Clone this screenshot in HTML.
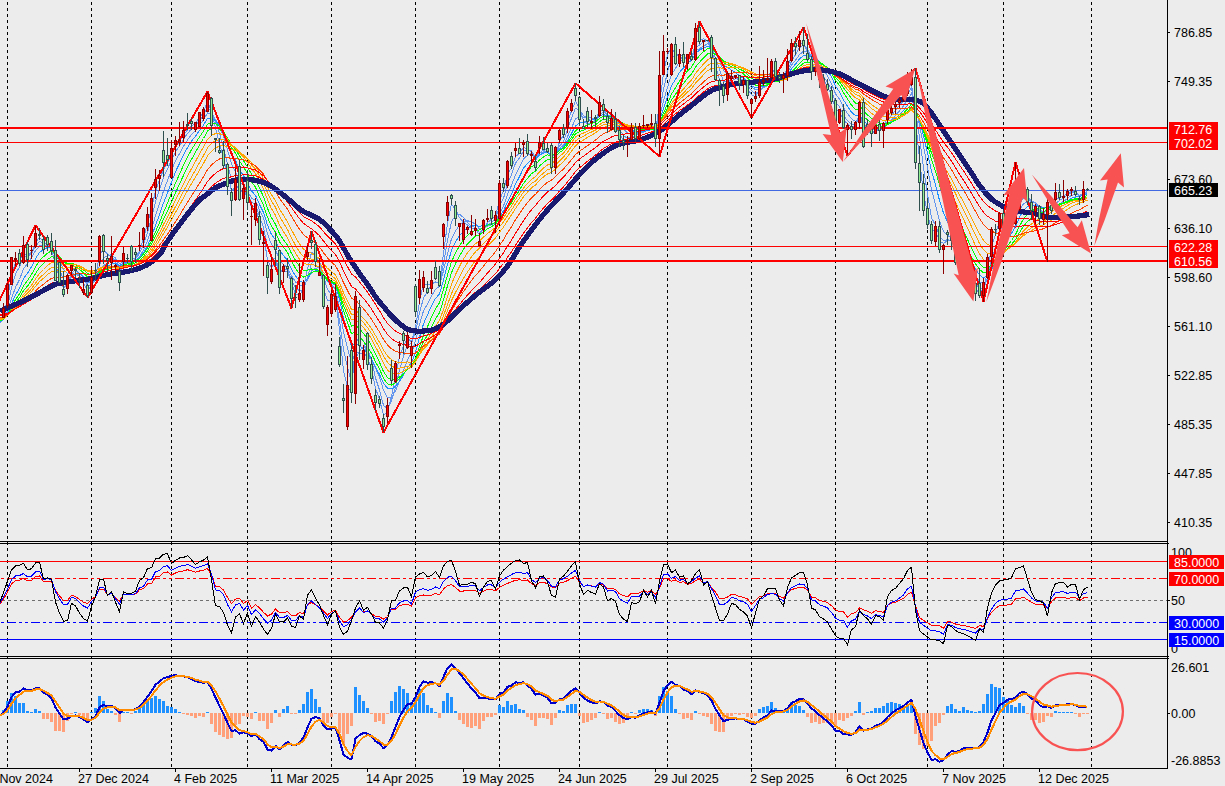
<!DOCTYPE html>
<html><head><meta charset="utf-8"><title>Chart</title>
<style>html,body{margin:0;padding:0;background:#ececec;overflow:hidden}svg{display:block}</style>
</head><body>
<svg width="1225" height="786" viewBox="0 0 1225 786" font-family="'Liberation Sans', sans-serif" font-size="12.5px">
<rect width="1225" height="786" fill="#ececec"/>
<g shape-rendering="crispEdges">
<line x1="7.5" y1="2" x2="7.5" y2="768" stroke="#000" stroke-width="1" stroke-dasharray="3 3"/>
<line x1="91.5" y1="2" x2="91.5" y2="768" stroke="#000" stroke-width="1" stroke-dasharray="3 3"/>
<line x1="171.5" y1="2" x2="171.5" y2="768" stroke="#000" stroke-width="1" stroke-dasharray="3 3"/>
<line x1="247.5" y1="2" x2="247.5" y2="768" stroke="#000" stroke-width="1" stroke-dasharray="3 3"/>
<line x1="331.5" y1="2" x2="331.5" y2="768" stroke="#000" stroke-width="1" stroke-dasharray="3 3"/>
<line x1="415.5" y1="2" x2="415.5" y2="768" stroke="#000" stroke-width="1" stroke-dasharray="3 3"/>
<line x1="499.5" y1="2" x2="499.5" y2="768" stroke="#000" stroke-width="1" stroke-dasharray="3 3"/>
<line x1="579.5" y1="2" x2="579.5" y2="768" stroke="#000" stroke-width="1" stroke-dasharray="3 3"/>
<line x1="667.5" y1="2" x2="667.5" y2="768" stroke="#000" stroke-width="1" stroke-dasharray="3 3"/>
<line x1="751.5" y1="2" x2="751.5" y2="768" stroke="#000" stroke-width="1" stroke-dasharray="3 3"/>
<line x1="835.5" y1="2" x2="835.5" y2="768" stroke="#000" stroke-width="1" stroke-dasharray="3 3"/>
<line x1="927.5" y1="2" x2="927.5" y2="768" stroke="#000" stroke-width="1" stroke-dasharray="3 3"/>
<line x1="1003.5" y1="2" x2="1003.5" y2="768" stroke="#000" stroke-width="1" stroke-dasharray="3 3"/>
<line x1="1091.5" y1="2" x2="1091.5" y2="768" stroke="#000" stroke-width="1" stroke-dasharray="3 3"/>
</g>
<g fill="none" stroke-width="1" shape-rendering="crispEdges">
<polyline points="-0.5,323.6 3.5,316.1 7.5,299.0 11.5,274.7 15.5,262.1 19.5,261.1 23.5,253.5 27.5,255.5 31.5,252.2 35.5,243.0 39.5,237.1 43.5,242.2 47.5,244.8 51.5,248.7 55.5,264.9 59.5,276.9 63.5,288.6 67.5,283.0 71.5,273.5 75.5,269.8 79.5,275.1 83.5,283.1 87.5,291.0 91.5,285.3 95.5,277.2 99.5,254.5 103.5,249.8 107.5,253.8 111.5,256.8 115.5,261.4 119.5,272.4 123.5,265.0 127.5,261.0 131.5,259.5 135.5,257.8 139.5,250.9 143.5,238.0 147.5,223.8 151.5,208.1 155.5,191.2 159.5,180.2 163.5,169.6 167.5,163.4 171.5,154.5 175.5,146.2 179.5,141.8 183.5,135.1 187.5,129.8 191.5,125.8 195.5,123.4 199.5,117.3 203.5,112.2 207.5,101.5 211.5,112.0 215.5,127.6 219.5,144.3 223.5,157.4 227.5,174.2 231.5,190.4 235.5,187.8 239.5,193.3 243.5,190.4 247.5,197.4 251.5,206.7 255.5,207.2 259.5,223.4 263.5,234.7 267.5,259.8 271.5,267.9 275.5,261.4 279.5,272.6 283.5,270.9 287.5,271.4 291.5,283.6 295.5,293.8 299.5,296.0 303.5,288.4 307.5,268.8 311.5,252.5 315.5,254.0 319.5,263.8 323.5,287.7 327.5,300.9 331.5,300.3 335.5,297.1 339.5,330.0 343.5,371.4 347.5,387.1 351.5,391.6 355.5,343.1 359.5,337.3 363.5,340.1 367.5,356.9 371.5,369.3 375.5,388.3 379.5,399.5 383.5,415.2 387.5,412.1 391.5,396.6 395.5,376.0 399.5,356.5 403.5,345.9 407.5,338.5 411.5,341.7 415.5,327.5 419.5,301.6 423.5,283.7 427.5,285.2 431.5,283.7 435.5,281.8 439.5,282.8 443.5,253.9 447.5,223.1 451.5,204.0 455.5,209.4 459.5,217.7 463.5,222.3 467.5,225.0 471.5,228.1 475.5,228.7 479.5,235.1 483.5,228.3 487.5,222.7 491.5,219.0 495.5,216.8 499.5,199.8 503.5,191.1 507.5,173.9 511.5,168.1 515.5,156.2 519.5,153.8 523.5,146.9 527.5,149.7 531.5,151.7 535.5,161.0 539.5,152.8 543.5,150.2 547.5,149.5 551.5,159.8 555.5,155.0 559.5,141.9 563.5,135.0 567.5,122.2 571.5,111.1 575.5,100.8 579.5,109.3 583.5,120.5 587.5,124.0 591.5,122.8 595.5,120.2 599.5,111.0 603.5,109.2 607.5,115.4 611.5,118.4 615.5,125.8 619.5,133.9 623.5,140.2 627.5,141.2 631.5,134.2 635.5,135.3 639.5,130.5 643.5,127.5 647.5,124.7 651.5,123.9 655.5,131.3 659.5,104.2 663.5,73.3 667.5,54.6 671.5,47.3 675.5,55.0 679.5,55.6 683.5,60.1 687.5,57.0 691.5,58.4 695.5,43.0 699.5,40.5 703.5,38.7 707.5,40.6 711.5,49.1 715.5,65.9 719.5,79.3 723.5,90.0 727.5,82.9 731.5,78.5 735.5,75.3 739.5,80.1 743.5,80.9 747.5,88.9 751.5,94.7 755.5,96.9 759.5,89.4 763.5,83.5 767.5,79.5 771.5,70.1 775.5,72.0 779.5,75.2 783.5,76.4 787.5,68.7 791.5,54.4 795.5,48.2 799.5,42.8 803.5,43.9 807.5,51.7 811.5,63.5 815.5,68.0 819.5,74.7 823.5,80.2 827.5,86.6 831.5,95.2 835.5,109.5 839.5,112.0 843.5,120.4 847.5,123.4 851.5,127.8 855.5,125.0 859.5,113.3 863.5,127.9 867.5,130.8 871.5,134.7 875.5,128.7 879.5,129.3 883.5,125.8 887.5,117.9 891.5,111.1 895.5,106.0 899.5,102.6 903.5,97.9 907.5,90.7 911.5,82.6 915.5,121.1 919.5,158.7 923.5,193.5 927.5,213.1 931.5,230.7 935.5,231.1 939.5,240.9 943.5,243.5 947.5,240.6 951.5,239.6 955.5,250.9 959.5,261.8 963.5,264.1 967.5,271.0 971.5,279.3 975.5,288.7 979.5,293.7 983.5,288.6 987.5,271.8 991.5,247.0 995.5,234.3 999.5,221.5 1003.5,222.2 1007.5,217.2 1011.5,216.6 1015.5,212.2 1019.5,198.8 1023.5,191.7 1027.5,195.2 1031.5,204.3 1035.5,206.7 1039.5,213.0 1043.5,214.3 1047.5,209.0 1051.5,208.5 1055.5,199.9 1059.5,197.9 1063.5,195.9 1067.5,193.8 1071.5,190.8 1075.5,192.3 1079.5,196.7 1083.5,193.7 1087.5,191.5" stroke="#6495ed"/>
<polyline points="-0.5,323.1 3.5,318.4 7.5,306.5 11.5,288.0 15.5,274.1 19.5,266.9 23.5,256.9 27.5,256.2 31.5,253.9 35.5,246.4 39.5,241.5 43.5,243.3 47.5,243.0 51.5,245.8 55.5,258.5 59.5,268.7 63.5,279.7 67.5,281.1 71.5,277.2 75.5,274.3 79.5,275.3 83.5,279.1 87.5,285.7 91.5,284.5 95.5,280.6 99.5,265.0 103.5,257.8 107.5,256.0 111.5,254.7 115.5,258.1 119.5,267.7 123.5,264.3 127.5,262.8 131.5,262.4 135.5,259.1 139.5,253.3 143.5,244.4 147.5,232.5 151.5,218.1 155.5,202.0 159.5,189.4 163.5,177.4 167.5,168.8 171.5,159.9 175.5,151.7 179.5,146.1 183.5,139.2 187.5,133.4 191.5,129.1 195.5,125.7 199.5,120.2 203.5,115.6 207.5,107.0 211.5,111.5 215.5,120.9 219.5,133.3 223.5,147.2 227.5,164.2 231.5,179.8 235.5,183.1 239.5,190.7 243.5,191.0 247.5,195.0 251.5,202.1 255.5,204.1 259.5,216.7 263.5,227.4 267.5,246.7 271.5,257.9 275.5,259.2 279.5,270.1 283.5,270.1 287.5,269.8 291.5,279.9 295.5,287.8 299.5,290.8 303.5,289.7 307.5,277.5 311.5,263.6 315.5,259.7 319.5,261.5 323.5,276.4 327.5,289.6 331.5,294.9 335.5,297.4 339.5,320.6 343.5,349.7 347.5,367.4 351.5,382.2 355.5,358.2 359.5,351.0 363.5,346.5 367.5,349.9 371.5,359.5 375.5,378.0 379.5,389.9 383.5,405.4 387.5,408.6 391.5,401.1 395.5,387.4 399.5,370.1 403.5,355.9 407.5,345.2 411.5,343.1 415.5,332.0 419.5,313.1 423.5,297.8 427.5,292.0 431.5,284.8 435.5,281.9 439.5,283.3 443.5,263.7 447.5,240.1 451.5,221.7 455.5,215.3 459.5,214.3 463.5,217.6 467.5,222.2 471.5,226.3 475.5,227.5 479.5,232.5 483.5,229.1 487.5,225.5 491.5,222.6 495.5,219.1 499.5,206.0 503.5,198.4 507.5,183.8 511.5,174.7 515.5,163.1 519.5,157.9 523.5,150.8 527.5,150.6 531.5,150.9 535.5,157.0 539.5,152.9 543.5,152.1 547.5,151.6 551.5,156.8 555.5,153.7 559.5,146.3 563.5,141.4 567.5,129.8 571.5,118.0 575.5,108.2 579.5,110.1 583.5,115.4 587.5,118.7 591.5,121.2 595.5,121.6 599.5,114.9 603.5,112.2 607.5,114.9 611.5,115.8 615.5,121.6 619.5,129.4 623.5,135.4 627.5,138.4 631.5,136.0 635.5,136.8 639.5,132.8 643.5,129.3 647.5,126.9 651.5,125.3 655.5,129.1 659.5,111.5 663.5,89.3 667.5,72.0 671.5,57.5 675.5,54.8 679.5,53.9 683.5,57.4 687.5,57.0 691.5,58.4 695.5,48.1 699.5,45.0 703.5,41.7 707.5,40.3 711.5,45.6 715.5,58.2 719.5,69.6 723.5,81.3 727.5,81.7 731.5,80.9 735.5,78.6 739.5,79.7 743.5,79.5 747.5,85.5 751.5,90.8 755.5,93.8 759.5,90.8 763.5,87.4 767.5,83.2 771.5,74.7 775.5,73.8 779.5,74.8 783.5,74.6 787.5,70.5 791.5,61.3 795.5,54.7 799.5,47.6 803.5,45.1 807.5,49.2 811.5,57.5 815.5,62.5 819.5,70.2 823.5,76.7 827.5,82.5 831.5,90.2 835.5,102.2 839.5,106.8 843.5,115.5 847.5,120.6 851.5,124.7 855.5,124.5 859.5,117.7 863.5,126.2 867.5,127.7 871.5,130.3 875.5,129.6 879.5,130.7 883.5,127.2 887.5,121.2 891.5,115.6 895.5,110.4 899.5,105.4 903.5,100.6 907.5,94.6 911.5,87.5 915.5,111.0 919.5,137.5 923.5,167.5 927.5,194.5 931.5,217.8 935.5,225.1 939.5,236.1 943.5,240.7 947.5,239.8 951.5,240.4 955.5,248.2 959.5,255.3 963.5,259.2 967.5,267.3 971.5,275.1 975.5,282.7 979.5,288.8 983.5,288.3 987.5,278.3 991.5,260.2 995.5,246.6 999.5,231.3 1003.5,225.7 1007.5,219.7 1011.5,217.7 1015.5,214.3 1019.5,204.5 1023.5,197.7 1027.5,197.4 1031.5,200.8 1035.5,202.8 1039.5,209.5 1043.5,212.4 1047.5,209.7 1051.5,209.9 1055.5,203.7 1059.5,200.4 1063.5,198.0 1067.5,195.1 1071.5,192.2 1075.5,192.9 1079.5,195.1 1083.5,193.3 1087.5,192.5" stroke="#6495ed"/>
<polyline points="-0.5,322.5 3.5,319.5 7.5,311.5 11.5,298.5 15.5,287.4 19.5,279.5 23.5,268.8 27.5,263.6 31.5,257.9 35.5,250.6 39.5,246.0 43.5,245.9 47.5,244.9 51.5,245.6 55.5,253.4 59.5,260.6 63.5,269.8 67.5,273.3 71.5,273.6 75.5,274.2 79.5,276.5 83.5,279.5 87.5,283.0 91.5,281.9 95.5,279.7 99.5,270.3 103.5,265.6 107.5,263.3 111.5,260.0 115.5,259.6 119.5,263.7 123.5,261.6 127.5,261.4 131.5,262.3 135.5,260.8 139.5,257.0 143.5,250.0 147.5,240.6 151.5,229.0 155.5,215.8 159.5,203.6 163.5,191.0 167.5,180.5 171.5,170.1 175.5,160.6 179.5,153.6 183.5,146.2 187.5,139.9 191.5,134.6 195.5,130.3 199.5,124.9 203.5,120.1 207.5,112.9 211.5,114.2 215.5,119.3 219.5,126.8 223.5,136.5 227.5,149.7 231.5,164.2 235.5,171.4 239.5,181.3 243.5,185.4 247.5,191.2 251.5,198.1 255.5,200.4 259.5,209.9 263.5,218.4 267.5,233.9 271.5,244.6 275.5,249.2 279.5,260.5 283.5,264.4 287.5,267.7 291.5,275.7 295.5,281.9 299.5,285.5 303.5,286.0 307.5,279.6 311.5,271.1 315.5,268.2 319.5,267.5 323.5,274.5 327.5,281.3 331.5,285.1 335.5,289.2 339.5,308.2 343.5,332.2 347.5,348.3 351.5,362.6 355.5,352.1 359.5,353.0 363.5,353.8 367.5,356.2 371.5,359.7 375.5,368.2 379.5,377.1 383.5,390.3 387.5,397.8 391.5,397.0 395.5,391.2 399.5,380.8 403.5,370.4 407.5,359.6 411.5,353.2 415.5,340.9 419.5,324.4 423.5,310.9 427.5,303.8 431.5,295.8 435.5,289.4 439.5,286.2 443.5,270.6 447.5,253.5 451.5,238.8 455.5,230.8 459.5,225.3 463.5,221.8 467.5,220.7 471.5,221.9 475.5,224.0 479.5,229.0 483.5,228.1 487.5,226.3 491.5,224.7 495.5,222.2 499.5,213.0 503.5,206.1 507.5,194.3 511.5,185.4 515.5,174.7 519.5,167.2 523.5,158.9 527.5,155.3 531.5,153.5 535.5,155.7 539.5,152.7 543.5,151.8 547.5,151.9 551.5,155.6 555.5,154.1 559.5,148.7 563.5,144.9 567.5,136.6 571.5,128.0 575.5,118.8 579.5,116.6 583.5,117.2 587.5,117.3 591.5,118.0 595.5,118.4 599.5,115.5 603.5,114.8 607.5,116.5 611.5,116.4 615.5,119.5 619.5,124.4 623.5,129.3 627.5,133.0 631.5,133.3 635.5,135.4 639.5,133.9 643.5,132.0 647.5,129.8 651.5,127.7 655.5,129.5 659.5,117.0 663.5,101.1 667.5,87.3 671.5,74.5 675.5,68.4 679.5,61.8 683.5,59.1 687.5,56.1 691.5,56.7 695.5,50.8 699.5,48.6 703.5,46.1 707.5,43.8 711.5,46.1 715.5,53.1 719.5,61.1 723.5,70.4 727.5,73.5 731.5,76.2 735.5,77.7 739.5,80.2 743.5,80.6 747.5,83.8 751.5,87.2 755.5,89.6 759.5,88.9 763.5,87.7 767.5,85.7 771.5,80.0 775.5,78.5 779.5,77.4 783.5,75.8 787.5,72.0 791.5,65.1 795.5,60.2 799.5,54.6 803.5,51.3 807.5,51.6 811.5,55.1 815.5,57.9 819.5,63.5 823.5,69.6 827.5,75.9 831.5,83.6 835.5,93.7 839.5,99.2 843.5,107.4 847.5,113.4 851.5,118.9 855.5,121.3 859.5,118.2 863.5,124.8 867.5,126.3 871.5,128.5 875.5,128.0 879.5,128.8 883.5,127.8 887.5,124.2 891.5,120.3 895.5,115.3 899.5,110.9 903.5,105.9 907.5,99.9 911.5,93.3 915.5,107.2 919.5,124.6 923.5,146.0 927.5,167.7 931.5,189.7 935.5,204.5 939.5,220.9 943.5,231.5 947.5,235.2 951.5,238.4 955.5,244.7 959.5,250.8 963.5,254.3 967.5,260.8 971.5,267.6 975.5,275.3 979.5,282.0 983.5,283.8 987.5,279.0 991.5,268.1 995.5,258.7 999.5,246.2 1003.5,238.4 1007.5,229.4 1011.5,223.4 1015.5,218.1 1019.5,209.6 1023.5,203.9 1027.5,202.0 1031.5,202.9 1035.5,202.7 1039.5,206.0 1043.5,208.1 1047.5,207.5 1051.5,209.1 1055.5,205.8 1059.5,203.8 1063.5,201.4 1067.5,198.4 1071.5,195.3 1075.5,194.4 1079.5,195.2 1083.5,193.5 1087.5,192.8" stroke="#6495ed"/>
<polyline points="-0.5,321.8 3.5,319.8 7.5,313.8 11.5,303.9 15.5,295.0 19.5,288.2 23.5,278.8 27.5,273.2 31.5,266.8 35.5,258.7 39.5,252.4 43.5,249.8 47.5,247.5 51.5,247.2 55.5,252.4 59.5,257.5 63.5,264.3 67.5,267.3 71.5,268.3 75.5,270.0 79.5,273.2 83.5,276.8 87.5,280.9 91.5,281.2 95.5,279.9 99.5,272.5 103.5,268.5 107.5,266.4 111.5,263.9 115.5,263.4 119.5,265.8 123.5,263.0 127.5,261.7 131.5,261.2 135.5,260.1 139.5,257.7 143.5,252.9 147.5,245.8 151.5,236.7 155.5,225.4 159.5,214.6 163.5,203.0 167.5,192.9 171.5,182.2 175.5,171.8 179.5,163.4 183.5,154.8 187.5,147.5 191.5,141.3 195.5,136.1 199.5,130.4 203.5,125.2 207.5,118.4 211.5,118.0 215.5,120.6 219.5,125.5 223.5,132.3 227.5,142.2 231.5,153.6 235.5,160.3 239.5,169.6 243.5,175.6 247.5,183.0 251.5,191.1 255.5,195.3 259.5,204.4 263.5,212.4 267.5,225.1 271.5,234.6 275.5,239.7 279.5,250.3 283.5,255.6 287.5,260.5 291.5,269.0 295.5,276.0 299.5,280.9 303.5,282.5 307.5,278.5 311.5,272.8 315.5,270.9 319.5,270.7 323.5,276.0 327.5,281.0 331.5,283.2 335.5,285.4 339.5,299.2 343.5,317.9 347.5,332.4 351.5,346.6 355.5,342.6 359.5,346.1 363.5,349.1 367.5,353.2 371.5,358.7 375.5,367.2 379.5,374.3 383.5,383.5 387.5,388.1 391.5,388.7 395.5,386.4 399.5,381.3 403.5,375.1 407.5,367.8 411.5,362.7 415.5,352.2 419.5,337.3 423.5,323.8 427.5,314.8 431.5,305.7 435.5,298.5 439.5,293.9 443.5,280.1 447.5,264.4 451.5,250.4 455.5,241.8 459.5,235.7 463.5,231.1 467.5,227.9 471.5,226.1 475.5,224.9 479.5,226.6 483.5,225.3 487.5,224.8 491.5,224.5 495.5,223.2 499.5,216.4 503.5,211.0 507.5,201.6 511.5,193.9 515.5,184.2 519.5,176.6 523.5,168.3 527.5,163.3 531.5,159.4 535.5,159.0 539.5,154.9 543.5,153.1 547.5,152.3 551.5,154.8 555.5,153.6 559.5,149.7 563.5,147.0 567.5,140.7 571.5,133.5 575.5,125.8 579.5,123.1 583.5,122.6 587.5,121.1 591.5,119.9 595.5,118.7 599.5,115.6 603.5,114.5 607.5,115.8 611.5,116.4 615.5,119.2 619.5,123.1 623.5,126.6 627.5,129.4 631.5,129.8 635.5,132.1 639.5,132.0 643.5,131.5 647.5,130.7 651.5,129.4 655.5,130.8 659.5,121.1 663.5,108.3 667.5,96.9 671.5,85.7 675.5,79.4 679.5,72.3 683.5,68.0 687.5,63.2 691.5,60.4 695.5,53.3 699.5,50.1 703.5,47.8 707.5,46.3 711.5,47.7 715.5,52.7 719.5,58.2 723.5,65.1 727.5,67.4 731.5,70.2 735.5,72.5 739.5,76.0 743.5,78.0 747.5,82.1 751.5,85.7 755.5,88.0 759.5,87.4 763.5,86.5 767.5,85.2 771.5,81.5 775.5,80.6 779.5,79.9 783.5,78.5 787.5,75.1 791.5,68.8 795.5,64.1 799.5,59.0 803.5,55.6 807.5,55.1 811.5,57.0 815.5,58.4 819.5,61.6 823.5,65.5 827.5,70.3 831.5,76.8 835.5,85.9 839.5,91.9 843.5,99.9 847.5,106.2 851.5,112.1 855.5,115.6 859.5,115.0 863.5,121.5 867.5,123.9 871.5,126.5 875.5,126.8 879.5,127.8 883.5,127.4 887.5,124.6 891.5,121.7 895.5,118.3 899.5,114.8 903.5,110.7 907.5,105.1 911.5,99.1 915.5,108.1 919.5,120.2 923.5,135.9 927.5,152.8 931.5,170.9 935.5,184.6 939.5,200.4 943.5,213.1 947.5,221.8 951.5,229.6 955.5,238.6 959.5,245.7 963.5,250.1 967.5,256.1 971.5,262.3 975.5,268.9 979.5,275.1 983.5,277.9 987.5,276.0 991.5,269.3 995.5,262.9 999.5,253.8 1003.5,247.5 1007.5,239.8 1011.5,233.3 1015.5,226.7 1019.5,217.3 1023.5,210.2 1027.5,206.7 1031.5,205.9 1035.5,204.9 1039.5,206.5 1043.5,207.6 1047.5,206.5 1051.5,207.3 1055.5,205.0 1059.5,204.0 1063.5,202.8 1067.5,200.8 1071.5,198.3 1075.5,197.0 1079.5,196.9 1083.5,195.0 1087.5,193.7" stroke="#1e90ff"/>
<polyline points="-0.5,321.1 3.5,319.6 7.5,315.0 11.5,307.0 15.5,299.7 19.5,293.9 23.5,285.9 27.5,280.6 31.5,274.5 35.5,266.9 39.5,260.5 43.5,256.8 47.5,253.1 51.5,250.9 55.5,253.5 59.5,256.7 63.5,261.8 67.5,264.1 71.5,265.0 75.5,266.6 79.5,269.4 83.5,272.9 87.5,277.1 91.5,278.3 95.5,278.3 99.5,273.3 103.5,270.5 107.5,268.9 111.5,266.5 115.5,265.6 119.5,267.2 123.5,265.0 127.5,263.8 131.5,263.0 135.5,261.3 139.5,258.6 143.5,254.0 147.5,248.2 151.5,240.9 155.5,231.8 159.5,222.7 163.5,212.6 167.5,203.2 171.5,193.0 175.5,183.0 179.5,174.3 183.5,165.2 187.5,157.0 191.5,149.7 195.5,143.4 199.5,136.9 203.5,131.1 207.5,124.2 211.5,122.7 215.5,123.6 219.5,126.5 223.5,131.3 227.5,138.8 231.5,147.8 235.5,153.3 239.5,161.2 243.5,166.8 247.5,173.9 251.5,181.9 255.5,187.3 259.5,196.8 263.5,205.3 267.5,217.2 271.5,226.5 275.5,232.1 279.5,241.7 283.5,247.2 287.5,252.5 291.5,261.0 295.5,268.3 299.5,274.0 303.5,277.1 307.5,275.5 311.5,272.4 315.5,271.4 319.5,271.5 323.5,276.0 327.5,280.2 331.5,282.4 335.5,284.4 339.5,295.5 343.5,310.5 347.5,322.1 351.5,333.9 355.5,332.0 359.5,336.7 363.5,341.3 367.5,346.9 371.5,353.2 375.5,361.7 379.5,369.0 383.5,378.5 387.5,383.9 391.5,385.0 395.5,382.9 399.5,378.3 403.5,373.9 407.5,369.1 411.5,366.3 415.5,358.6 419.5,346.7 423.5,335.2 427.5,326.7 431.5,317.2 435.5,308.9 439.5,302.6 443.5,289.4 447.5,274.9 451.5,261.8 455.5,252.9 459.5,245.8 463.5,239.8 467.5,235.3 471.5,232.5 475.5,230.1 479.5,230.0 483.5,227.4 487.5,225.3 491.5,223.8 495.5,222.3 499.5,217.4 503.5,213.5 507.5,206.0 511.5,199.6 515.5,191.3 519.5,184.5 523.5,176.8 527.5,171.4 531.5,166.7 535.5,164.8 539.5,160.0 543.5,157.0 547.5,154.9 551.5,155.7 555.5,154.1 559.5,150.5 563.5,148.1 567.5,142.8 571.5,137.0 575.5,130.6 579.5,128.1 583.5,126.9 587.5,125.1 591.5,123.4 595.5,121.8 599.5,118.3 603.5,116.3 607.5,116.4 611.5,116.3 615.5,118.2 619.5,121.3 623.5,124.7 627.5,127.4 631.5,128.0 635.5,129.9 639.5,129.9 643.5,129.7 647.5,129.4 651.5,129.0 655.5,130.7 659.5,123.4 663.5,113.2 667.5,103.8 671.5,94.1 675.5,87.8 679.5,81.0 683.5,76.3 687.5,71.0 691.5,67.3 695.5,60.1 699.5,55.7 703.5,51.7 707.5,48.7 711.5,48.8 715.5,52.5 719.5,57.1 723.5,62.6 727.5,64.6 731.5,66.8 735.5,68.7 739.5,71.7 743.5,73.9 747.5,78.0 751.5,82.0 755.5,85.0 759.5,85.7 763.5,85.7 767.5,85.0 771.5,82.0 775.5,81.1 779.5,80.6 783.5,79.7 787.5,77.1 791.5,72.1 795.5,68.0 799.5,63.3 803.5,59.7 807.5,58.5 811.5,59.3 815.5,59.7 819.5,62.0 823.5,64.8 827.5,68.3 831.5,73.1 835.5,80.3 839.5,85.4 843.5,92.7 847.5,99.0 851.5,105.1 855.5,109.4 859.5,110.3 863.5,116.6 867.5,119.8 871.5,123.0 875.5,124.4 879.5,126.1 883.5,126.3 887.5,124.6 891.5,122.4 895.5,119.8 899.5,116.8 903.5,113.3 907.5,108.9 911.5,103.8 915.5,110.5 919.5,119.4 923.5,131.6 927.5,144.9 931.5,159.6 935.5,171.2 939.5,185.1 943.5,196.9 947.5,206.2 951.5,215.1 955.5,225.6 959.5,235.3 963.5,242.5 967.5,250.1 971.5,256.9 975.5,263.6 979.5,269.5 983.5,272.7 987.5,272.0 991.5,267.5 995.5,263.1 999.5,256.6 1003.5,252.1 1007.5,245.9 1011.5,240.5 1015.5,234.6 1019.5,226.2 1023.5,218.9 1027.5,214.2 1031.5,211.4 1035.5,208.7 1039.5,208.6 1043.5,208.6 1047.5,207.3 1051.5,207.4 1055.5,205.2 1059.5,204.0 1063.5,202.8 1067.5,201.2 1071.5,199.4 1075.5,198.7 1079.5,198.6 1083.5,196.9 1087.5,195.5" stroke="#00ff00"/>
<polyline points="-0.5,320.5 3.5,319.3 7.5,315.6 11.5,308.9 15.5,302.8 19.5,297.7 23.5,290.8 27.5,286.1 31.5,280.5 35.5,273.6 39.5,267.6 43.5,263.6 47.5,259.6 51.5,256.7 55.5,257.7 59.5,259.1 63.5,262.1 67.5,263.1 71.5,263.4 75.5,264.5 79.5,266.9 83.5,269.9 87.5,273.5 91.5,274.9 95.5,275.4 99.5,271.9 103.5,270.2 107.5,269.5 111.5,267.9 115.5,267.5 119.5,268.8 123.5,266.6 127.5,265.2 131.5,264.4 135.5,262.9 139.5,260.5 143.5,256.4 147.5,250.9 151.5,244.1 155.5,235.9 159.5,227.9 163.5,219.3 167.5,211.0 171.5,201.9 175.5,192.7 179.5,184.2 183.5,175.3 187.5,167.0 191.5,159.3 195.5,152.3 199.5,145.1 203.5,138.5 207.5,131.1 211.5,128.3 215.5,127.9 219.5,129.3 223.5,132.4 227.5,137.9 231.5,145.0 235.5,149.4 239.5,155.9 243.5,160.8 247.5,167.0 251.5,174.2 255.5,179.5 259.5,188.3 263.5,196.7 267.5,208.3 271.5,217.8 275.5,224.2 279.5,233.7 283.5,239.7 287.5,245.3 291.5,253.4 295.5,260.5 299.5,266.4 303.5,270.3 307.5,270.3 311.5,269.0 315.5,269.4 319.5,270.5 323.5,275.1 327.5,279.1 331.5,281.1 335.5,283.1 339.5,292.6 343.5,305.5 347.5,315.6 351.5,326.0 355.5,324.8 359.5,329.0 363.5,333.4 367.5,338.9 371.5,345.6 375.5,354.3 379.5,362.3 383.5,371.6 387.5,377.5 391.5,379.8 395.5,379.6 399.5,377.0 403.5,373.7 407.5,369.4 411.5,366.6 415.5,360.4 419.5,351.0 423.5,342.0 427.5,334.9 431.5,326.8 435.5,319.1 439.5,312.6 443.5,299.9 447.5,285.8 451.5,272.8 455.5,263.5 459.5,255.9 463.5,249.2 467.5,244.0 471.5,239.9 475.5,236.2 479.5,234.8 483.5,231.6 487.5,228.9 491.5,226.6 495.5,224.2 499.5,218.9 503.5,214.8 507.5,208.2 511.5,202.9 515.5,196.1 519.5,190.2 523.5,183.4 527.5,178.3 531.5,173.7 535.5,171.1 539.5,166.1 543.5,162.4 547.5,159.5 551.5,159.1 555.5,156.6 559.5,152.6 563.5,149.8 567.5,144.9 571.5,139.5 575.5,133.9 579.5,131.5 583.5,130.3 587.5,128.5 591.5,126.8 595.5,125.0 599.5,121.5 603.5,119.3 607.5,118.9 611.5,118.0 615.5,118.9 619.5,120.9 623.5,123.3 627.5,125.4 631.5,126.1 635.5,128.1 639.5,128.4 643.5,128.5 647.5,128.3 651.5,128.1 655.5,129.5 659.5,123.8 663.5,115.6 667.5,107.9 671.5,99.8 675.5,94.4 679.5,88.2 683.5,83.5 687.5,78.2 691.5,74.1 695.5,67.0 699.5,62.3 703.5,57.8 707.5,54.0 711.5,52.8 715.5,54.4 719.5,57.0 723.5,61.0 727.5,62.6 731.5,64.7 735.5,66.5 739.5,69.1 743.5,71.0 747.5,74.5 751.5,78.1 755.5,81.1 759.5,82.3 763.5,83.2 767.5,83.5 771.5,81.7 775.5,81.4 779.5,81.2 783.5,80.3 787.5,78.0 791.5,73.8 795.5,70.5 799.5,66.5 803.5,63.3 807.5,62.0 811.5,62.1 815.5,61.9 819.5,63.2 823.5,65.1 827.5,67.7 831.5,71.6 835.5,77.4 839.5,81.7 843.5,87.7 847.5,93.1 851.5,98.6 855.5,103.0 859.5,104.7 863.5,111.1 867.5,114.9 871.5,118.5 875.5,120.6 879.5,122.9 883.5,124.0 887.5,123.3 891.5,122.1 895.5,120.3 899.5,118.0 903.5,115.1 907.5,111.4 911.5,106.9 915.5,112.2 919.5,119.6 923.5,129.7 927.5,140.8 931.5,152.9 935.5,162.8 939.5,174.6 943.5,185.1 947.5,193.7 951.5,202.3 955.5,212.6 959.5,222.4 963.5,230.5 967.5,239.4 971.5,248.0 975.5,256.2 979.5,263.3 983.5,267.4 987.5,268.0 991.5,264.9 995.5,261.9 999.5,256.9 1003.5,253.5 1007.5,248.7 1011.5,244.5 1015.5,239.7 1019.5,232.5 1023.5,226.1 1027.5,221.5 1031.5,218.3 1035.5,214.9 1039.5,213.4 1043.5,211.9 1047.5,209.5 1051.5,208.7 1055.5,206.3 1059.5,205.0 1063.5,203.6 1067.5,202.0 1071.5,200.2 1075.5,199.4 1079.5,199.2 1083.5,197.9 1087.5,196.9" stroke="#00ff00"/>
<polyline points="-0.5,319.8 3.5,318.9 7.5,315.8 11.5,310.1 15.5,304.9 19.5,300.5 23.5,294.4 27.5,290.1 31.5,285.2 35.5,278.9 39.5,273.3 43.5,269.5 47.5,265.5 51.5,262.4 55.5,262.5 59.5,263.0 63.5,264.8 67.5,264.9 71.5,264.2 75.5,264.4 79.5,265.7 83.5,268.0 87.5,271.1 91.5,272.3 95.5,272.9 99.5,270.0 103.5,268.9 107.5,268.5 111.5,267.6 115.5,267.6 119.5,269.2 123.5,267.6 127.5,266.7 131.5,265.9 135.5,264.4 139.5,262.0 143.5,258.3 147.5,253.5 151.5,247.5 155.5,240.1 159.5,232.7 163.5,224.6 167.5,216.8 171.5,208.6 175.5,200.2 179.5,192.5 183.5,184.2 187.5,176.2 191.5,168.6 195.5,161.4 199.5,154.0 203.5,147.0 207.5,139.3 211.5,135.4 215.5,133.6 219.5,133.6 223.5,135.2 227.5,139.1 231.5,144.5 235.5,147.8 239.5,153.0 243.5,157.0 247.5,162.3 251.5,168.6 255.5,173.4 259.5,181.3 263.5,189.1 267.5,199.7 271.5,208.8 275.5,215.4 279.5,225.0 283.5,231.6 287.5,237.8 291.5,245.9 295.5,253.2 299.5,259.3 303.5,263.6 307.5,264.4 311.5,264.2 315.5,265.5 319.5,267.4 323.5,272.3 327.5,276.5 331.5,279.1 335.5,281.5 339.5,290.0 343.5,301.4 347.5,310.5 351.5,319.8 355.5,319.3 359.5,323.4 363.5,327.6 367.5,332.8 371.5,338.8 375.5,346.7 379.5,354.3 383.5,363.5 387.5,370.0 391.5,373.4 395.5,374.5 399.5,373.3 403.5,371.4 407.5,368.8 411.5,367.2 415.5,362.1 419.5,353.7 423.5,345.5 427.5,339.4 431.5,332.6 435.5,326.2 439.5,320.5 443.5,309.3 447.5,296.4 451.5,284.2 455.5,274.6 459.5,266.4 463.5,259.0 467.5,252.9 471.5,248.0 475.5,243.6 479.5,241.1 483.5,237.1 487.5,233.5 491.5,230.5 495.5,227.7 499.5,222.4 503.5,218.0 507.5,211.5 511.5,206.0 515.5,199.4 519.5,193.9 523.5,188.0 527.5,183.5 531.5,179.3 535.5,176.7 539.5,171.8 543.5,168.1 547.5,164.9 551.5,163.6 555.5,160.6 559.5,156.3 563.5,153.1 567.5,148.0 571.5,142.6 575.5,137.1 579.5,134.5 583.5,133.0 587.5,131.2 591.5,129.5 595.5,127.7 599.5,124.5 603.5,122.4 607.5,121.5 611.5,120.4 615.5,120.7 619.5,122.0 623.5,123.6 627.5,125.0 631.5,125.1 635.5,126.6 639.5,126.9 643.5,127.0 647.5,127.2 651.5,127.3 655.5,128.7 659.5,123.8 663.5,116.8 667.5,110.2 671.5,103.3 675.5,98.6 679.5,93.3 683.5,89.1 687.5,84.2 691.5,80.2 695.5,73.5 699.5,68.6 703.5,64.0 707.5,59.9 711.5,58.0 715.5,58.4 719.5,59.8 723.5,62.2 727.5,62.7 731.5,63.6 735.5,64.7 739.5,67.0 743.5,68.9 747.5,72.1 751.5,75.3 755.5,78.0 759.5,79.3 763.5,80.2 767.5,80.8 771.5,79.8 775.5,80.2 779.5,80.5 783.5,80.3 787.5,78.7 791.5,75.2 795.5,72.2 799.5,68.6 803.5,65.8 807.5,64.6 811.5,64.6 815.5,64.3 819.5,65.1 823.5,66.4 827.5,68.2 831.5,71.2 835.5,75.9 839.5,79.4 843.5,84.6 847.5,89.3 851.5,94.1 855.5,97.9 859.5,99.7 863.5,105.5 867.5,109.4 871.5,113.4 875.5,116.1 879.5,118.9 883.5,120.6 887.5,120.7 891.5,120.3 895.5,119.4 899.5,117.9 903.5,115.9 907.5,112.9 911.5,109.1 915.5,113.6 919.5,119.9 923.5,128.4 927.5,137.9 931.5,148.5 935.5,157.2 939.5,167.6 943.5,176.8 947.5,184.5 951.5,192.4 955.5,201.8 959.5,211.1 963.5,219.1 967.5,228.0 971.5,236.9 975.5,245.7 979.5,253.7 983.5,259.5 987.5,262.0 991.5,261.1 995.5,259.5 999.5,256.0 1003.5,253.5 1007.5,249.7 1011.5,246.3 1015.5,242.4 1019.5,236.4 1023.5,231.0 1027.5,227.0 1031.5,224.0 1035.5,220.7 1039.5,218.9 1043.5,216.9 1047.5,214.0 1051.5,212.2 1055.5,209.1 1059.5,206.9 1063.5,205.1 1067.5,203.2 1071.5,201.4 1075.5,200.4 1079.5,200.1 1083.5,198.7 1087.5,197.6" stroke="#ffa500"/>
<polyline points="-0.5,319.2 3.5,318.5 7.5,315.8 11.5,310.9 15.5,306.3 19.5,302.4 23.5,297.1 27.5,293.2 31.5,288.7 35.5,283.1 39.5,278.0 43.5,274.3 47.5,270.4 51.5,267.4 55.5,267.1 59.5,267.0 63.5,268.2 67.5,267.7 71.5,266.6 75.5,266.2 79.5,266.7 83.5,268.1 87.5,270.2 91.5,270.8 95.5,271.1 99.5,268.6 103.5,267.6 107.5,267.4 111.5,266.7 115.5,266.9 119.5,268.5 123.5,267.4 127.5,266.9 131.5,266.5 135.5,265.4 139.5,263.5 143.5,260.2 147.5,255.8 151.5,250.3 155.5,243.5 159.5,236.8 163.5,229.5 167.5,222.3 171.5,214.5 175.5,206.6 179.5,199.2 183.5,191.4 187.5,183.9 191.5,176.8 195.5,169.8 199.5,162.6 203.5,155.6 207.5,147.8 211.5,143.3 215.5,140.7 219.5,139.5 223.5,139.8 227.5,142.1 231.5,145.9 235.5,148.0 239.5,152.1 243.5,155.1 247.5,159.5 251.5,164.8 255.5,169.0 259.5,176.0 263.5,183.0 267.5,192.6 271.5,201.0 275.5,207.4 279.5,216.5 283.5,223.1 287.5,229.5 291.5,237.8 295.5,245.4 299.5,251.9 303.5,256.7 307.5,258.5 311.5,259.1 315.5,260.9 319.5,263.3 323.5,268.2 327.5,272.7 331.5,275.7 335.5,278.6 339.5,286.8 343.5,297.4 347.5,306.0 351.5,314.6 355.5,314.6 359.5,318.6 363.5,322.7 367.5,327.6 371.5,333.4 375.5,340.8 379.5,347.8 383.5,356.2 387.5,362.3 391.5,366.1 395.5,368.0 399.5,368.1 403.5,367.6 407.5,366.2 411.5,365.5 415.5,361.7 419.5,355.2 423.5,348.5 427.5,343.2 431.5,336.9 435.5,330.8 439.5,325.7 443.5,315.8 447.5,304.6 451.5,293.6 455.5,284.8 459.5,276.7 463.5,269.2 467.5,262.6 471.5,256.9 475.5,251.7 479.5,248.2 483.5,243.6 487.5,239.5 491.5,235.9 495.5,232.4 499.5,226.7 503.5,222.0 507.5,215.7 511.5,210.2 515.5,203.7 519.5,198.1 523.5,192.1 527.5,187.5 531.5,183.4 535.5,181.0 539.5,176.6 543.5,173.0 547.5,169.8 551.5,168.3 555.5,165.1 559.5,160.8 563.5,157.2 567.5,152.1 571.5,146.6 575.5,141.1 579.5,138.1 583.5,136.1 587.5,133.9 591.5,132.0 595.5,130.1 599.5,127.0 603.5,124.9 607.5,124.0 611.5,122.8 615.5,122.9 619.5,123.7 623.5,124.7 627.5,125.6 631.5,125.5 635.5,126.5 639.5,126.3 643.5,126.2 647.5,126.2 651.5,126.2 655.5,127.5 659.5,123.5 663.5,117.6 667.5,111.8 671.5,105.7 675.5,101.5 679.5,96.8 683.5,93.0 687.5,88.7 691.5,85.1 695.5,79.0 699.5,74.4 703.5,69.9 707.5,65.7 711.5,63.3 715.5,63.0 719.5,63.5 723.5,65.0 727.5,64.7 731.5,64.9 735.5,65.3 739.5,66.5 743.5,67.6 747.5,70.1 751.5,73.0 755.5,75.6 759.5,76.8 763.5,77.8 767.5,78.5 771.5,77.8 775.5,78.3 779.5,78.9 783.5,79.0 787.5,78.1 791.5,75.4 795.5,73.2 799.5,70.2 803.5,67.8 807.5,66.5 811.5,66.4 815.5,66.0 819.5,66.7 823.5,67.7 827.5,69.2 831.5,71.7 835.5,75.6 839.5,78.4 843.5,82.7 847.5,86.7 851.5,90.9 855.5,94.4 859.5,96.0 863.5,101.3 867.5,104.8 871.5,108.5 875.5,111.2 879.5,114.3 883.5,116.4 887.5,117.2 891.5,117.6 895.5,117.3 899.5,116.6 903.5,115.3 907.5,113.1 911.5,110.1 915.5,114.3 919.5,120.0 923.5,127.5 927.5,135.9 931.5,145.3 935.5,152.9 939.5,162.2 943.5,170.6 947.5,177.7 951.5,184.9 955.5,193.5 959.5,202.0 963.5,209.6 967.5,218.0 971.5,226.5 975.5,235.2 979.5,243.4 983.5,249.7 987.5,253.3 991.5,254.1 995.5,254.5 999.5,252.9 1003.5,251.9 1007.5,249.4 1011.5,246.9 1015.5,243.8 1019.5,238.7 1023.5,234.0 1027.5,230.6 1031.5,227.9 1035.5,225.0 1039.5,223.4 1043.5,221.4 1047.5,218.5 1051.5,216.5 1055.5,213.2 1059.5,210.6 1063.5,208.2 1067.5,205.6 1071.5,203.3 1075.5,201.9 1079.5,201.2 1083.5,199.8 1087.5,198.6" stroke="#ffa500"/>
<polyline points="-0.5,318.5 3.5,318.0 7.5,315.6 11.5,311.3 15.5,307.3 19.5,303.8 23.5,299.1 27.5,295.6 31.5,291.5 35.5,286.4 39.5,281.7 43.5,278.3 47.5,274.6 51.5,271.7 55.5,271.1 59.5,270.8 63.5,271.5 67.5,270.7 71.5,269.4 75.5,268.6 79.5,268.8 83.5,269.5 87.5,271.0 91.5,271.1 95.5,270.9 99.5,268.2 103.5,267.0 107.5,266.6 111.5,266.0 115.5,266.1 119.5,267.6 123.5,266.8 127.5,266.4 131.5,266.2 135.5,265.5 139.5,264.0 143.5,261.3 147.5,257.5 151.5,252.7 155.5,246.6 159.5,240.4 163.5,233.6 167.5,226.9 171.5,219.7 175.5,212.3 179.5,205.3 183.5,197.9 187.5,190.6 191.5,183.7 195.5,177.0 199.5,170.1 203.5,163.4 207.5,155.9 211.5,151.2 215.5,148.0 219.5,146.1 223.5,145.5 227.5,146.7 231.5,149.2 235.5,150.3 239.5,153.1 243.5,155.1 247.5,158.5 251.5,162.8 255.5,166.3 259.5,172.4 263.5,178.5 267.5,187.1 271.5,194.8 275.5,200.7 279.5,209.1 283.5,215.4 287.5,221.7 291.5,229.7 295.5,237.2 299.5,243.9 303.5,249.2 307.5,251.8 311.5,253.3 315.5,255.8 319.5,258.7 323.5,263.7 327.5,268.3 331.5,271.6 335.5,274.7 339.5,282.6 343.5,292.7 347.5,301.1 351.5,309.4 355.5,310.1 359.5,314.2 363.5,318.3 367.5,323.0 371.5,328.5 375.5,335.5 379.5,342.2 383.5,350.1 387.5,356.0 391.5,359.7 395.5,361.8 399.5,362.3 403.5,362.5 407.5,362.0 411.5,362.3 415.5,359.8 419.5,354.6 423.5,349.2 427.5,345.0 431.5,339.8 435.5,334.7 439.5,330.1 443.5,321.0 447.5,310.5 451.5,300.5 455.5,292.5 459.5,285.3 463.5,278.2 467.5,271.9 471.5,266.1 475.5,260.5 479.5,256.4 483.5,251.1 487.5,246.2 491.5,242.0 495.5,238.0 499.5,232.1 503.5,227.2 507.5,220.6 511.5,214.9 515.5,208.4 519.5,202.8 523.5,196.9 527.5,192.2 531.5,187.8 535.5,185.0 539.5,180.5 543.5,176.9 547.5,173.9 551.5,172.4 555.5,169.3 559.5,165.1 563.5,161.6 567.5,156.5 571.5,151.2 575.5,145.7 579.5,142.4 583.5,140.0 587.5,137.4 591.5,135.1 595.5,132.8 599.5,129.6 603.5,127.4 607.5,126.3 611.5,125.0 615.5,124.8 619.5,125.4 623.5,126.2 627.5,126.8 631.5,126.4 635.5,127.0 639.5,126.7 643.5,126.4 647.5,126.1 651.5,125.9 655.5,126.8 659.5,123.1 663.5,117.8 667.5,112.7 671.5,107.4 675.5,103.8 679.5,99.5 683.5,96.0 687.5,92.0 691.5,88.7 695.5,83.2 699.5,78.9 703.5,74.8 707.5,70.8 711.5,68.4 715.5,67.7 719.5,67.7 723.5,68.5 727.5,67.7 731.5,67.4 735.5,67.1 739.5,67.7 743.5,68.2 747.5,69.9 751.5,72.0 755.5,73.8 759.5,74.8 763.5,75.8 767.5,76.5 771.5,76.0 775.5,76.6 779.5,77.2 783.5,77.5 787.5,76.8 791.5,74.7 795.5,72.9 799.5,70.6 803.5,68.8 807.5,67.9 811.5,67.9 815.5,67.5 819.5,68.0 823.5,68.8 827.5,70.1 831.5,72.2 835.5,75.7 839.5,78.1 843.5,81.9 847.5,85.3 851.5,88.9 855.5,91.9 859.5,93.3 863.5,98.0 867.5,101.2 871.5,104.7 875.5,107.3 879.5,110.1 883.5,112.3 887.5,113.3 891.5,114.1 895.5,114.4 899.5,114.3 903.5,113.7 907.5,112.2 911.5,109.9 915.5,114.0 919.5,119.3 923.5,126.4 927.5,134.1 931.5,142.6 935.5,149.6 939.5,158.0 943.5,165.7 947.5,172.2 951.5,178.9 955.5,186.8 959.5,194.8 963.5,201.9 967.5,209.7 971.5,217.8 975.5,226.0 979.5,233.8 983.5,240.2 987.5,244.3 991.5,245.9 995.5,247.3 999.5,247.0 1003.5,247.4 1007.5,246.5 1011.5,245.5 1015.5,243.6 1019.5,239.6 1023.5,235.8 1027.5,232.8 1031.5,230.6 1035.5,228.0 1039.5,226.5 1043.5,224.7 1047.5,222.1 1051.5,220.3 1055.5,217.1 1059.5,214.5 1063.5,212.0 1067.5,209.3 1071.5,206.6 1075.5,204.6 1079.5,203.4 1083.5,201.5 1087.5,200.0" stroke="#ffa500"/>
<polyline points="-0.5,317.2 3.5,316.9 7.5,315.1 11.5,311.7 15.5,308.4 19.5,305.6 23.5,301.7 27.5,298.8 31.5,295.5 35.5,291.2 39.5,287.2 43.5,284.2 47.5,281.0 51.5,278.3 55.5,277.6 59.5,277.0 63.5,277.2 67.5,276.3 71.5,274.8 75.5,273.8 79.5,273.5 83.5,273.6 87.5,274.3 91.5,273.9 95.5,273.2 99.5,270.5 103.5,268.9 107.5,267.9 111.5,266.8 115.5,266.3 119.5,267.1 123.5,266.1 127.5,265.6 131.5,265.4 135.5,264.8 139.5,263.7 143.5,261.6 147.5,258.7 151.5,254.9 155.5,250.1 159.5,245.2 163.5,239.7 167.5,234.2 171.5,228.1 175.5,221.7 179.5,215.5 183.5,208.8 187.5,202.3 191.5,195.9 195.5,189.7 199.5,183.2 203.5,176.8 207.5,169.7 211.5,165.0 215.5,161.4 219.5,159.0 223.5,157.5 227.5,157.5 231.5,158.5 235.5,158.2 239.5,159.4 243.5,159.9 247.5,161.5 251.5,164.0 255.5,165.8 259.5,169.9 263.5,174.2 267.5,180.8 271.5,186.7 275.5,191.4 279.5,198.4 283.5,203.8 287.5,209.3 291.5,216.3 295.5,223.1 299.5,229.3 303.5,234.6 307.5,237.7 311.5,240.1 315.5,243.5 319.5,247.2 323.5,252.7 327.5,257.9 331.5,261.9 335.5,265.7 339.5,273.2 343.5,282.6 347.5,290.4 351.5,298.3 355.5,299.9 359.5,304.4 363.5,308.8 367.5,313.7 371.5,319.2 375.5,325.8 379.5,332.1 383.5,339.4 387.5,345.0 391.5,348.8 395.5,351.2 399.5,352.4 403.5,353.2 407.5,353.4 411.5,354.3 415.5,353.0 419.5,349.6 423.5,346.0 427.5,343.5 431.5,340.2 435.5,336.9 439.5,333.9 443.5,327.0 447.5,318.9 451.5,310.8 455.5,304.1 459.5,297.8 463.5,291.6 467.5,285.8 471.5,280.5 475.5,275.3 479.5,271.2 483.5,266.2 487.5,261.2 491.5,256.5 495.5,251.7 499.5,245.4 503.5,239.7 507.5,232.7 511.5,226.6 515.5,219.8 519.5,213.9 523.5,207.6 527.5,202.6 531.5,197.8 535.5,194.3 539.5,189.6 543.5,185.7 547.5,182.2 551.5,180.0 555.5,176.7 559.5,172.6 563.5,169.0 567.5,164.4 571.5,159.6 575.5,154.6 579.5,151.2 583.5,148.5 587.5,145.6 591.5,142.9 595.5,140.1 599.5,136.6 603.5,133.8 607.5,132.0 611.5,130.1 615.5,129.3 619.5,129.1 623.5,129.2 627.5,129.4 631.5,128.8 635.5,129.0 639.5,128.5 643.5,127.9 647.5,127.4 651.5,126.9 655.5,127.4 659.5,124.0 663.5,119.3 667.5,114.8 671.5,110.1 675.5,106.8 679.5,103.1 683.5,100.1 687.5,96.8 691.5,93.9 695.5,89.3 699.5,85.7 703.5,82.0 707.5,78.5 711.5,76.2 715.5,75.3 719.5,75.0 723.5,75.3 727.5,74.2 731.5,73.4 735.5,72.6 739.5,72.4 743.5,72.1 747.5,72.8 751.5,73.7 755.5,74.6 759.5,74.7 763.5,74.8 767.5,74.9 771.5,74.0 775.5,74.2 779.5,74.6 783.5,74.8 787.5,74.4 791.5,72.9 795.5,71.6 799.5,69.9 803.5,68.6 807.5,68.1 811.5,68.4 815.5,68.4 819.5,69.1 823.5,70.1 827.5,71.3 831.5,73.1 835.5,76.0 839.5,78.0 843.5,81.0 847.5,83.7 851.5,86.7 855.5,89.1 859.5,90.3 863.5,94.1 867.5,96.7 871.5,99.5 875.5,101.6 879.5,104.1 883.5,106.0 887.5,107.1 891.5,107.9 895.5,108.5 899.5,108.8 903.5,108.8 907.5,108.1 911.5,106.9 915.5,110.8 919.5,115.9 923.5,122.3 927.5,129.3 931.5,137.0 935.5,143.3 939.5,150.8 943.5,157.7 947.5,163.5 951.5,169.5 955.5,176.5 959.5,183.5 963.5,189.8 967.5,196.8 971.5,204.0 975.5,211.4 979.5,218.5 983.5,224.5 987.5,228.7 991.5,230.9 995.5,233.0 999.5,233.8 1003.5,235.3 1007.5,235.9 1011.5,236.4 1015.5,236.4 1019.5,234.8 1023.5,233.2 1027.5,232.3 1031.5,231.6 1035.5,230.5 1039.5,229.9 1043.5,228.7 1047.5,226.8 1051.5,225.3 1055.5,222.7 1059.5,220.5 1063.5,218.2 1067.5,215.8 1071.5,213.3 1075.5,211.3 1079.5,209.7 1083.5,207.4 1087.5,205.4" stroke="#ff4500"/>
<polyline points="-0.5,315.8 3.5,315.7 7.5,314.3 11.5,311.5 15.5,308.8 19.5,306.5 23.5,303.2 27.5,300.8 31.5,297.9 35.5,294.3 39.5,290.9 43.5,288.3 47.5,285.5 51.5,283.1 55.5,282.3 59.5,281.7 63.5,281.7 67.5,280.8 71.5,279.3 75.5,278.3 79.5,277.8 83.5,277.7 87.5,278.0 91.5,277.4 95.5,276.5 99.5,273.9 103.5,272.2 107.5,271.1 111.5,269.8 115.5,269.0 119.5,269.2 123.5,268.0 127.5,267.1 131.5,266.5 135.5,265.5 139.5,264.2 143.5,262.1 147.5,259.4 151.5,256.0 155.5,251.9 159.5,247.7 163.5,243.0 167.5,238.3 171.5,233.1 175.5,227.7 179.5,222.5 183.5,216.8 187.5,211.2 191.5,205.5 195.5,199.9 199.5,194.0 203.5,188.1 207.5,181.5 211.5,176.9 215.5,173.3 219.5,170.5 223.5,168.5 227.5,167.8 231.5,167.9 235.5,167.0 239.5,167.3 243.5,167.0 247.5,167.7 251.5,169.2 255.5,170.0 259.5,172.7 263.5,175.7 267.5,180.5 271.5,184.8 275.5,188.1 279.5,193.4 283.5,197.6 287.5,201.9 291.5,207.6 295.5,213.3 299.5,218.7 303.5,223.3 307.5,226.3 311.5,228.7 315.5,232.0 319.5,235.7 323.5,241.0 327.5,246.1 331.5,250.4 335.5,254.5 339.5,261.9 343.5,270.9 347.5,278.7 351.5,286.5 355.5,289.0 359.5,293.8 363.5,298.4 367.5,303.5 371.5,309.0 375.5,315.5 379.5,321.7 383.5,328.7 387.5,334.4 391.5,338.5 395.5,341.4 399.5,343.2 403.5,344.6 407.5,345.4 411.5,346.8 415.5,346.2 419.5,343.8 423.5,341.3 427.5,339.6 431.5,337.2 435.5,334.8 439.5,332.7 443.5,327.4 447.5,321.1 451.5,314.7 455.5,309.5 459.5,304.6 463.5,299.7 467.5,295.1 471.5,290.7 475.5,286.2 479.5,282.5 483.5,277.8 487.5,273.1 491.5,268.6 495.5,264.0 499.5,258.1 503.5,252.7 507.5,246.2 511.5,240.1 515.5,233.3 519.5,227.1 523.5,220.6 527.5,215.0 531.5,209.7 535.5,205.6 539.5,200.4 543.5,196.0 547.5,192.0 551.5,189.1 555.5,185.4 559.5,181.0 563.5,177.2 567.5,172.5 571.5,167.6 575.5,162.6 579.5,159.0 583.5,156.2 587.5,153.2 591.5,150.4 595.5,147.7 599.5,144.2 603.5,141.4 607.5,139.3 611.5,137.0 615.5,135.6 619.5,134.8 623.5,134.2 627.5,133.6 631.5,132.5 635.5,132.1 639.5,131.1 643.5,130.2 647.5,129.5 651.5,128.8 655.5,128.9 659.5,125.9 663.5,121.7 667.5,117.7 671.5,113.4 675.5,110.4 679.5,106.9 683.5,104.1 687.5,100.8 691.5,98.1 695.5,93.8 699.5,90.5 703.5,87.1 707.5,83.9 711.5,81.8 715.5,80.9 719.5,80.5 723.5,80.5 727.5,79.4 731.5,78.5 735.5,77.6 739.5,77.2 743.5,76.7 747.5,77.0 751.5,77.5 755.5,77.8 759.5,77.5 763.5,77.1 767.5,76.7 771.5,75.5 775.5,75.2 779.5,75.0 783.5,74.8 787.5,73.9 791.5,72.2 795.5,70.8 799.5,69.2 803.5,68.0 807.5,67.5 811.5,67.9 815.5,68.0 819.5,68.7 823.5,69.6 827.5,70.8 831.5,72.5 835.5,75.1 839.5,77.1 843.5,79.9 847.5,82.5 851.5,85.2 855.5,87.3 859.5,88.4 863.5,91.7 867.5,93.9 871.5,96.3 875.5,98.2 879.5,100.4 883.5,102.0 887.5,103.0 891.5,103.7 895.5,104.3 899.5,104.6 903.5,104.6 907.5,104.2 911.5,103.3 915.5,106.9 919.5,111.4 923.5,117.2 927.5,123.4 931.5,130.4 935.5,136.3 939.5,143.3 943.5,149.7 947.5,155.4 951.5,161.1 955.5,167.6 959.5,174.2 963.5,180.1 967.5,186.6 971.5,193.3 975.5,200.0 979.5,206.6 983.5,212.2 987.5,216.3 991.5,218.7 995.5,221.1 999.5,222.4 1003.5,224.2 1007.5,225.3 1011.5,226.4 1015.5,227.1 1019.5,226.4 1023.5,225.8 1027.5,225.8 1031.5,226.2 1035.5,226.2 1039.5,226.7 1043.5,226.9 1047.5,226.3 1051.5,226.0 1055.5,224.5 1059.5,223.3 1063.5,221.8 1067.5,219.9 1071.5,217.9 1075.5,216.1 1079.5,214.7 1083.5,212.7 1087.5,210.8" stroke="#ff0000"/>
<polyline points="-0.5,314.5 3.5,314.5 7.5,313.3 11.5,311.0 15.5,308.7 19.5,306.8 23.5,304.0 27.5,301.9 31.5,299.5 35.5,296.3 39.5,293.4 43.5,291.1 47.5,288.6 51.5,286.5 55.5,285.8 59.5,285.2 63.5,285.1 67.5,284.2 71.5,282.9 75.5,281.8 79.5,281.3 83.5,281.1 87.5,281.3 91.5,280.6 95.5,279.7 99.5,277.3 103.5,275.6 107.5,274.5 111.5,273.1 115.5,272.2 119.5,272.2 123.5,270.9 127.5,269.9 131.5,269.0 135.5,268.0 139.5,266.5 143.5,264.4 147.5,261.7 151.5,258.4 155.5,254.4 159.5,250.4 163.5,246.0 167.5,241.6 171.5,236.9 175.5,232.0 179.5,227.3 183.5,222.2 187.5,217.2 191.5,212.2 195.5,207.3 199.5,202.0 203.5,196.8 207.5,190.9 211.5,186.7 215.5,183.3 219.5,180.5 223.5,178.4 227.5,177.3 231.5,176.9 235.5,175.6 239.5,175.4 243.5,174.7 247.5,174.7 251.5,175.4 255.5,175.6 259.5,177.5 263.5,179.5 267.5,183.2 271.5,186.5 275.5,189.0 279.5,193.1 283.5,196.2 287.5,199.5 291.5,204.0 295.5,208.5 299.5,212.8 303.5,216.5 307.5,218.8 311.5,220.8 315.5,223.6 319.5,226.8 323.5,231.6 327.5,236.2 331.5,240.2 335.5,244.1 339.5,251.0 343.5,259.3 347.5,266.6 351.5,274.1 355.5,277.0 359.5,281.9 363.5,286.9 367.5,292.2 371.5,297.9 375.5,304.4 379.5,310.7 383.5,317.7 387.5,323.4 391.5,327.7 395.5,331.0 399.5,333.3 403.5,335.2 407.5,336.7 411.5,338.6 415.5,338.8 419.5,337.4 423.5,335.9 427.5,334.9 431.5,333.3 435.5,331.6 439.5,330.2 443.5,325.9 447.5,320.7 451.5,315.5 455.5,311.2 459.5,307.1 463.5,303.1 467.5,299.4 471.5,295.8 475.5,292.2 479.5,289.3 483.5,285.4 487.5,281.5 491.5,277.7 495.5,273.7 499.5,268.4 503.5,263.5 507.5,257.4 511.5,251.7 515.5,245.3 519.5,239.4 523.5,233.2 527.5,227.8 531.5,222.7 535.5,218.3 539.5,212.9 543.5,208.1 547.5,203.6 551.5,200.1 555.5,195.8 559.5,191.1 563.5,186.8 567.5,181.9 571.5,176.8 575.5,171.6 579.5,167.8 583.5,164.6 587.5,161.3 591.5,158.2 595.5,155.1 599.5,151.5 603.5,148.5 607.5,146.1 611.5,143.8 615.5,142.2 619.5,141.1 623.5,140.2 627.5,139.3 631.5,137.8 635.5,137.0 639.5,135.7 643.5,134.4 647.5,133.2 651.5,132.0 655.5,131.7 659.5,128.6 663.5,124.6 667.5,120.7 671.5,116.8 675.5,113.9 679.5,110.6 683.5,107.9 687.5,104.9 691.5,102.3 695.5,98.4 699.5,95.2 703.5,92.0 707.5,88.9 711.5,86.8 715.5,85.7 719.5,84.9 723.5,84.7 727.5,83.5 731.5,82.5 735.5,81.6 739.5,81.1 743.5,80.6 747.5,80.7 751.5,80.9 755.5,81.1 759.5,80.6 763.5,80.1 767.5,79.6 771.5,78.3 775.5,77.8 779.5,77.4 783.5,76.9 787.5,75.8 791.5,73.9 795.5,72.4 799.5,70.6 803.5,69.1 807.5,68.4 811.5,68.3 815.5,68.1 819.5,68.5 823.5,69.1 827.5,70.0 831.5,71.5 835.5,73.9 839.5,75.6 843.5,78.2 847.5,80.5 851.5,83.0 855.5,85.1 859.5,86.2 863.5,89.3 867.5,91.5 871.5,93.8 875.5,95.6 879.5,97.6 883.5,99.2 887.5,100.1 891.5,100.8 895.5,101.3 899.5,101.7 903.5,101.8 907.5,101.5 911.5,100.8 915.5,103.9 919.5,107.8 923.5,112.9 927.5,118.4 931.5,124.6 935.5,130.0 939.5,136.2 943.5,142.1 947.5,147.3 951.5,152.7 955.5,158.9 959.5,165.1 963.5,170.8 967.5,177.0 971.5,183.4 975.5,189.9 979.5,196.2 983.5,201.6 987.5,205.7 991.5,208.4 995.5,211.0 999.5,212.6 1003.5,214.7 1007.5,216.0 1011.5,217.4 1015.5,218.5 1019.5,218.3 1023.5,218.3 1027.5,218.7 1031.5,219.5 1035.5,220.0 1039.5,220.9 1043.5,221.6 1047.5,221.6 1051.5,221.9 1055.5,221.4 1059.5,221.0 1063.5,220.5 1067.5,219.6 1071.5,218.6 1075.5,217.8 1079.5,217.1 1083.5,215.8 1087.5,214.4" stroke="#ff0000"/>
</g>
<path d="M0.0,311.0C2.8,309.8 11.0,306.5 16.5,304.0C22.0,301.5 27.4,298.8 33.0,296.0C38.6,293.2 45.8,289.1 50.0,287.0C54.2,284.9 53.9,284.6 58.0,283.6C62.1,282.6 69.0,281.8 74.5,281.0C80.0,280.2 85.5,279.7 91.0,278.6C96.5,277.5 102.1,275.6 107.6,274.5C113.1,273.4 119.3,272.8 124.0,272.0C128.7,271.2 131.5,270.9 135.7,269.5C139.9,268.1 144.9,266.3 149.0,263.7C153.1,261.1 157.1,257.4 160.0,254.0C162.9,250.6 162.5,248.6 166.3,243.0C170.1,237.4 177.2,227.6 182.6,220.5C188.0,213.4 195.0,204.8 198.9,200.5C202.8,196.2 203.5,197.1 206.2,195.0C208.9,192.9 212.2,189.8 215.0,188.0C217.8,186.2 220.0,185.7 222.8,184.5C225.6,183.3 228.7,181.8 232.0,181.0C235.3,180.2 239.2,179.6 242.6,179.4C246.0,179.2 249.0,179.5 252.6,180.0C256.2,180.5 260.7,181.4 264.0,182.6C267.3,183.8 269.4,185.1 272.5,187.0C275.6,188.9 279.1,191.7 282.4,194.3C285.7,196.9 289.0,199.8 292.3,202.5C295.6,205.2 297.6,207.8 302.0,210.6C306.4,213.3 314.4,216.1 318.8,219.0C323.2,221.9 325.4,224.6 328.7,228.0C332.0,231.4 335.3,234.8 338.6,239.6C341.9,244.4 345.3,251.6 348.6,257.0C351.9,262.4 355.2,267.2 358.5,272.0C361.8,276.8 365.5,281.6 368.5,286.0C371.5,290.4 374.2,295.0 376.7,298.4C379.2,301.8 381.2,303.7 383.5,306.5C385.8,309.3 387.9,312.2 390.5,315.0C393.1,317.8 396.1,320.7 398.8,323.0C401.6,325.3 404.2,327.7 407.0,329.0C409.8,330.3 412.5,330.7 415.3,331.0C418.1,331.3 420.8,331.2 423.6,331.0C426.4,330.8 429.3,330.8 432.0,330.0C434.7,329.2 437.3,328.1 440.0,326.5C442.7,324.9 445.2,322.9 448.0,320.5C450.8,318.1 454.2,314.4 456.7,312.0C459.2,309.6 459.3,309.2 463.0,306.0C466.7,302.8 473.4,296.9 478.8,292.6C484.2,288.3 490.3,284.7 495.3,280.0C500.3,275.3 504.5,270.1 508.6,264.5C512.7,258.9 515.3,253.2 520.0,246.3C524.7,239.4 531.2,230.1 536.7,223.0C542.2,215.9 548.5,208.8 553.3,203.5C558.1,198.2 561.7,194.9 565.4,190.9C569.1,186.9 572.0,183.0 575.3,179.3C578.6,175.6 582.0,171.8 585.3,168.5C588.6,165.2 591.9,162.2 595.2,159.4C598.5,156.7 601.7,154.2 605.0,152.0C608.3,149.8 611.7,147.5 615.0,146.0C618.3,144.5 621.7,143.6 625.0,142.8C628.3,142.0 631.0,142.0 635.0,141.0C639.0,140.0 644.4,138.7 649.0,136.7C653.6,134.7 658.5,131.8 662.4,129.2C666.3,126.6 669.0,123.8 672.3,121.0C675.6,118.2 678.9,115.4 682.2,112.7C685.5,110.0 688.9,107.6 692.2,105.0C695.5,102.4 698.7,99.5 702.0,97.0C705.3,94.5 708.7,92.0 712.0,90.3C715.3,88.6 718.7,88.0 722.0,87.0C725.3,86.0 728.7,85.2 732.0,84.5C735.3,83.8 738.7,83.4 742.0,83.0C745.3,82.6 748.5,82.5 751.8,82.2C755.1,81.9 758.2,81.6 761.7,81.2C765.2,80.8 768.1,80.7 772.6,79.6C777.1,78.5 783.5,76.1 789.0,74.6C794.5,73.1 800.2,71.3 805.7,70.5C811.2,69.7 816.7,69.5 822.2,70.0C827.7,70.5 833.3,71.6 838.8,73.6C844.3,75.6 849.8,79.2 855.3,82.0C860.8,84.8 867.0,88.1 872.0,90.5C877.0,92.9 880.6,95.1 885.0,96.6C889.4,98.1 893.8,99.0 898.4,99.5C903.0,100.0 908.7,99.0 912.7,99.6C916.7,100.2 919.3,100.5 922.6,103.0C925.9,105.5 929.3,110.2 932.6,114.6C935.9,119.0 939.2,124.5 942.5,129.5C945.8,134.5 949.2,139.4 952.5,144.4C955.8,149.4 959.1,154.3 962.4,159.3C965.7,164.3 969.4,169.8 972.3,174.2C975.2,178.6 977.0,182.0 980.0,186.0C983.0,190.0 987.4,195.2 990.5,198.2C993.6,201.2 996.0,202.3 998.8,204.0C1001.5,205.7 1004.2,207.1 1007.0,208.3C1009.8,209.5 1012.5,210.4 1015.3,211.0C1018.1,211.6 1020.8,211.7 1023.6,212.0C1026.4,212.3 1029.3,212.4 1032.0,213.0C1034.7,213.6 1037.2,214.8 1040.0,215.5C1042.8,216.2 1045.7,217.0 1048.5,217.4C1051.3,217.8 1054.0,217.8 1056.7,217.8C1059.5,217.8 1062.3,217.4 1065.0,217.2C1067.7,217.0 1070.1,216.7 1072.8,216.5C1075.5,216.3 1078.2,216.1 1081.0,215.8C1083.8,215.5 1087.9,214.7 1089.3,214.5" fill="none" stroke="#191970" stroke-width="5.2" stroke-linecap="butt" stroke-linejoin="round" shape-rendering="crispEdges"/>
<polyline points="-8,316 35.5,225.2 87.7,297.4 207.5,91.6 291.5,308.3 311.5,231.3 383.5,432.5 575.5,83.2 659.5,156.5 699.5,21.6 751.5,117.6 803.5,27.4 847.5,156 915.5,68.3 983.5,301.7 1015.5,162.4 1047.5,262" fill="none" stroke="#ff0000" stroke-width="2" stroke-linejoin="bevel" shape-rendering="crispEdges"/>
<g shape-rendering="crispEdges">
<line x1="0" y1="190.5" x2="1167" y2="190.5" stroke="#4169e1" stroke-width="1"/>
<line x1="0" y1="142.5" x2="1167" y2="142.5" stroke="#ff0000" stroke-width="1"/>
<line x1="0" y1="246.5" x2="1167" y2="246.5" stroke="#ff0000" stroke-width="1"/>
<line x1="0" y1="128.0" x2="1167" y2="128.0" stroke="#ff0000" stroke-width="2"/>
<line x1="0" y1="261.0" x2="1167" y2="261.0" stroke="#ff0000" stroke-width="2"/>
</g>
<g shape-rendering="crispEdges">
<rect x="3" y="303" width="1" height="15" fill="#8b0000"/>
<rect x="2" y="308" width="3" height="10" fill="#8b0000"/>
<rect x="3" y="309" width="1" height="8" fill="#ff0000"/>
<rect x="7" y="283" width="1" height="25" fill="#8b0000"/>
<rect x="6" y="284" width="3" height="22" fill="#8b0000"/>
<rect x="7" y="285" width="1" height="20" fill="#ff0000"/>
<rect x="11" y="257" width="1" height="28" fill="#8b0000"/>
<rect x="10" y="257" width="3" height="28" fill="#8b0000"/>
<rect x="11" y="258" width="1" height="26" fill="#ff0000"/>
<rect x="15" y="252" width="1" height="14" fill="#8b0000"/>
<rect x="14" y="258" width="3" height="2" fill="#8b0000"/>
<rect x="19" y="249" width="1" height="17" fill="#2f4f4f"/>
<rect x="18" y="253" width="3" height="11" fill="#2f4f4f"/>
<rect x="19" y="254" width="1" height="9" fill="#90ee90"/>
<rect x="23" y="236" width="1" height="28" fill="#8b0000"/>
<rect x="22" y="245" width="3" height="18" fill="#8b0000"/>
<rect x="23" y="246" width="1" height="16" fill="#ff0000"/>
<rect x="27" y="242" width="1" height="25" fill="#2f4f4f"/>
<rect x="26" y="244" width="3" height="16" fill="#2f4f4f"/>
<rect x="27" y="245" width="1" height="14" fill="#90ee90"/>
<rect x="31" y="245" width="1" height="14" fill="#8b0000"/>
<rect x="30" y="250" width="3" height="1" fill="#8b0000"/>
<rect x="35" y="226" width="1" height="22" fill="#8b0000"/>
<rect x="34" y="233" width="3" height="14" fill="#8b0000"/>
<rect x="35" y="234" width="1" height="12" fill="#ff0000"/>
<rect x="39" y="228" width="1" height="12" fill="#2f4f4f"/>
<rect x="38" y="234" width="3" height="2" fill="#2f4f4f"/>
<rect x="43" y="236" width="1" height="18" fill="#2f4f4f"/>
<rect x="42" y="239" width="3" height="11" fill="#2f4f4f"/>
<rect x="43" y="240" width="1" height="9" fill="#90ee90"/>
<rect x="47" y="235" width="1" height="16" fill="#2f4f4f"/>
<rect x="46" y="237" width="3" height="8" fill="#2f4f4f"/>
<rect x="47" y="238" width="1" height="6" fill="#90ee90"/>
<rect x="51" y="233" width="1" height="22" fill="#2f4f4f"/>
<rect x="50" y="241" width="3" height="10" fill="#2f4f4f"/>
<rect x="51" y="242" width="1" height="8" fill="#90ee90"/>
<rect x="55" y="240" width="1" height="41" fill="#2f4f4f"/>
<rect x="54" y="250" width="3" height="31" fill="#2f4f4f"/>
<rect x="55" y="251" width="1" height="29" fill="#90ee90"/>
<rect x="59" y="262" width="1" height="21" fill="#2f4f4f"/>
<rect x="58" y="262" width="3" height="21" fill="#2f4f4f"/>
<rect x="59" y="263" width="1" height="19" fill="#90ee90"/>
<rect x="63" y="271" width="1" height="26" fill="#2f4f4f"/>
<rect x="62" y="289" width="3" height="6" fill="#2f4f4f"/>
<rect x="63" y="290" width="1" height="4" fill="#90ee90"/>
<rect x="67" y="274" width="1" height="20" fill="#8b0000"/>
<rect x="66" y="275" width="3" height="14" fill="#8b0000"/>
<rect x="67" y="276" width="1" height="12" fill="#ff0000"/>
<rect x="71" y="265" width="1" height="10" fill="#8b0000"/>
<rect x="70" y="265" width="3" height="6" fill="#8b0000"/>
<rect x="71" y="266" width="1" height="4" fill="#ff0000"/>
<rect x="75" y="267" width="1" height="11" fill="#2f4f4f"/>
<rect x="74" y="269" width="3" height="2" fill="#2f4f4f"/>
<rect x="79" y="273" width="1" height="15" fill="#2f4f4f"/>
<rect x="78" y="280" width="3" height="1" fill="#2f4f4f"/>
<rect x="83" y="279" width="1" height="16" fill="#8b0000"/>
<rect x="82" y="289" width="3" height="4" fill="#8b0000"/>
<rect x="83" y="290" width="1" height="2" fill="#ff0000"/>
<rect x="87" y="284" width="1" height="14" fill="#2f4f4f"/>
<rect x="86" y="285" width="3" height="11" fill="#2f4f4f"/>
<rect x="87" y="286" width="1" height="9" fill="#90ee90"/>
<rect x="91" y="267" width="1" height="27" fill="#8b0000"/>
<rect x="90" y="277" width="3" height="16" fill="#8b0000"/>
<rect x="91" y="278" width="1" height="14" fill="#ff0000"/>
<rect x="95" y="263" width="1" height="18" fill="#2f4f4f"/>
<rect x="94" y="270" width="3" height="1" fill="#2f4f4f"/>
<rect x="99" y="235" width="1" height="31" fill="#8b0000"/>
<rect x="98" y="236" width="3" height="26" fill="#8b0000"/>
<rect x="99" y="237" width="1" height="24" fill="#ff0000"/>
<rect x="103" y="234" width="1" height="30" fill="#2f4f4f"/>
<rect x="102" y="235" width="3" height="17" fill="#2f4f4f"/>
<rect x="103" y="236" width="1" height="15" fill="#90ee90"/>
<rect x="107" y="254" width="1" height="18" fill="#2f4f4f"/>
<rect x="106" y="258" width="3" height="3" fill="#2f4f4f"/>
<rect x="107" y="259" width="1" height="1" fill="#90ee90"/>
<rect x="111" y="236" width="1" height="44" fill="#8b0000"/>
<rect x="110" y="256" width="3" height="7" fill="#8b0000"/>
<rect x="111" y="257" width="1" height="5" fill="#ff0000"/>
<rect x="115" y="264" width="1" height="9" fill="#8b0000"/>
<rect x="114" y="265" width="3" height="2" fill="#8b0000"/>
<rect x="119" y="268" width="1" height="23" fill="#2f4f4f"/>
<rect x="118" y="271" width="3" height="12" fill="#2f4f4f"/>
<rect x="119" y="272" width="1" height="10" fill="#90ee90"/>
<rect x="123" y="247" width="1" height="19" fill="#8b0000"/>
<rect x="122" y="253" width="3" height="9" fill="#8b0000"/>
<rect x="123" y="254" width="1" height="7" fill="#ff0000"/>
<rect x="127" y="254" width="1" height="9" fill="#2f4f4f"/>
<rect x="126" y="258" width="3" height="1" fill="#2f4f4f"/>
<rect x="131" y="245" width="1" height="26" fill="#2f4f4f"/>
<rect x="130" y="246" width="3" height="16" fill="#2f4f4f"/>
<rect x="131" y="247" width="1" height="14" fill="#90ee90"/>
<rect x="135" y="248" width="1" height="15" fill="#2f4f4f"/>
<rect x="134" y="252" width="3" height="3" fill="#2f4f4f"/>
<rect x="135" y="253" width="1" height="1" fill="#90ee90"/>
<rect x="139" y="232" width="1" height="19" fill="#8b0000"/>
<rect x="138" y="245" width="3" height="1" fill="#8b0000"/>
<rect x="143" y="227" width="1" height="21" fill="#8b0000"/>
<rect x="142" y="228" width="3" height="12" fill="#8b0000"/>
<rect x="143" y="229" width="1" height="10" fill="#ff0000"/>
<rect x="147" y="207" width="1" height="24" fill="#8b0000"/>
<rect x="146" y="214" width="3" height="13" fill="#8b0000"/>
<rect x="147" y="215" width="1" height="11" fill="#ff0000"/>
<rect x="151" y="193" width="1" height="48" fill="#8b0000"/>
<rect x="150" y="198" width="3" height="43" fill="#8b0000"/>
<rect x="151" y="199" width="1" height="41" fill="#ff0000"/>
<rect x="155" y="169" width="1" height="30" fill="#8b0000"/>
<rect x="154" y="179" width="3" height="9" fill="#8b0000"/>
<rect x="155" y="180" width="1" height="7" fill="#ff0000"/>
<rect x="159" y="170" width="1" height="21" fill="#8b0000"/>
<rect x="158" y="175" width="3" height="4" fill="#8b0000"/>
<rect x="159" y="176" width="1" height="2" fill="#ff0000"/>
<rect x="163" y="131" width="1" height="46" fill="#2f4f4f"/>
<rect x="162" y="150" width="3" height="13" fill="#2f4f4f"/>
<rect x="163" y="151" width="1" height="11" fill="#90ee90"/>
<rect x="167" y="138" width="1" height="28" fill="#2f4f4f"/>
<rect x="166" y="155" width="3" height="5" fill="#2f4f4f"/>
<rect x="167" y="156" width="1" height="3" fill="#90ee90"/>
<rect x="171" y="140" width="1" height="38" fill="#8b0000"/>
<rect x="170" y="148" width="3" height="30" fill="#8b0000"/>
<rect x="171" y="149" width="1" height="28" fill="#ff0000"/>
<rect x="175" y="136" width="1" height="20" fill="#8b0000"/>
<rect x="174" y="140" width="3" height="5" fill="#8b0000"/>
<rect x="175" y="141" width="1" height="3" fill="#ff0000"/>
<rect x="179" y="122" width="1" height="24" fill="#8b0000"/>
<rect x="178" y="140" width="3" height="3" fill="#8b0000"/>
<rect x="179" y="141" width="1" height="1" fill="#ff0000"/>
<rect x="183" y="121" width="1" height="21" fill="#8b0000"/>
<rect x="182" y="130" width="3" height="8" fill="#8b0000"/>
<rect x="183" y="131" width="1" height="6" fill="#ff0000"/>
<rect x="187" y="113" width="1" height="17" fill="#2f4f4f"/>
<rect x="186" y="124" width="3" height="2" fill="#2f4f4f"/>
<rect x="191" y="118" width="1" height="12" fill="#2f4f4f"/>
<rect x="190" y="121" width="3" height="3" fill="#2f4f4f"/>
<rect x="191" y="122" width="1" height="1" fill="#90ee90"/>
<rect x="195" y="122" width="1" height="10" fill="#8b0000"/>
<rect x="194" y="122" width="3" height="8" fill="#8b0000"/>
<rect x="195" y="123" width="1" height="6" fill="#ff0000"/>
<rect x="199" y="112" width="1" height="15" fill="#8b0000"/>
<rect x="198" y="112" width="3" height="15" fill="#8b0000"/>
<rect x="199" y="113" width="1" height="13" fill="#ff0000"/>
<rect x="203" y="107" width="1" height="14" fill="#8b0000"/>
<rect x="202" y="109" width="3" height="10" fill="#8b0000"/>
<rect x="203" y="110" width="1" height="8" fill="#ff0000"/>
<rect x="207" y="92" width="1" height="20" fill="#8b0000"/>
<rect x="206" y="93" width="3" height="19" fill="#8b0000"/>
<rect x="207" y="94" width="1" height="17" fill="#ff0000"/>
<rect x="211" y="97" width="1" height="39" fill="#2f4f4f"/>
<rect x="210" y="98" width="3" height="28" fill="#2f4f4f"/>
<rect x="211" y="99" width="1" height="26" fill="#90ee90"/>
<rect x="215" y="138" width="1" height="14" fill="#2f4f4f"/>
<rect x="214" y="138" width="3" height="2" fill="#2f4f4f"/>
<rect x="219" y="138" width="1" height="16" fill="#2f4f4f"/>
<rect x="218" y="150" width="3" height="3" fill="#2f4f4f"/>
<rect x="219" y="151" width="1" height="1" fill="#90ee90"/>
<rect x="223" y="141" width="1" height="28" fill="#2f4f4f"/>
<rect x="222" y="150" width="3" height="16" fill="#2f4f4f"/>
<rect x="223" y="151" width="1" height="14" fill="#90ee90"/>
<rect x="227" y="163" width="1" height="32" fill="#2f4f4f"/>
<rect x="226" y="164" width="3" height="23" fill="#2f4f4f"/>
<rect x="227" y="165" width="1" height="21" fill="#90ee90"/>
<rect x="231" y="188" width="1" height="28" fill="#2f4f4f"/>
<rect x="230" y="192" width="3" height="9" fill="#2f4f4f"/>
<rect x="231" y="193" width="1" height="7" fill="#90ee90"/>
<rect x="235" y="168" width="1" height="33" fill="#8b0000"/>
<rect x="234" y="179" width="3" height="21" fill="#8b0000"/>
<rect x="235" y="180" width="1" height="19" fill="#ff0000"/>
<rect x="239" y="160" width="1" height="41" fill="#2f4f4f"/>
<rect x="238" y="166" width="3" height="34" fill="#2f4f4f"/>
<rect x="239" y="167" width="1" height="32" fill="#90ee90"/>
<rect x="243" y="184" width="1" height="36" fill="#8b0000"/>
<rect x="242" y="188" width="3" height="11" fill="#8b0000"/>
<rect x="243" y="189" width="1" height="9" fill="#ff0000"/>
<rect x="247" y="170" width="1" height="40" fill="#2f4f4f"/>
<rect x="246" y="180" width="3" height="23" fill="#2f4f4f"/>
<rect x="247" y="181" width="1" height="21" fill="#90ee90"/>
<rect x="251" y="206" width="1" height="39" fill="#8b0000"/>
<rect x="250" y="216" width="3" height="1" fill="#8b0000"/>
<rect x="255" y="198" width="1" height="28" fill="#8b0000"/>
<rect x="254" y="203" width="3" height="17" fill="#8b0000"/>
<rect x="255" y="204" width="1" height="15" fill="#ff0000"/>
<rect x="259" y="211" width="1" height="34" fill="#2f4f4f"/>
<rect x="258" y="216" width="3" height="24" fill="#2f4f4f"/>
<rect x="259" y="217" width="1" height="22" fill="#90ee90"/>
<rect x="263" y="231" width="1" height="45" fill="#8b0000"/>
<rect x="262" y="242" width="3" height="2" fill="#8b0000"/>
<rect x="267" y="262" width="1" height="32" fill="#2f4f4f"/>
<rect x="266" y="265" width="3" height="13" fill="#2f4f4f"/>
<rect x="267" y="266" width="1" height="11" fill="#90ee90"/>
<rect x="271" y="257" width="1" height="27" fill="#8b0000"/>
<rect x="270" y="269" width="3" height="13" fill="#8b0000"/>
<rect x="271" y="270" width="1" height="11" fill="#ff0000"/>
<rect x="275" y="232" width="1" height="34" fill="#2f4f4f"/>
<rect x="274" y="240" width="3" height="10" fill="#2f4f4f"/>
<rect x="275" y="241" width="1" height="8" fill="#90ee90"/>
<rect x="279" y="250" width="1" height="44" fill="#2f4f4f"/>
<rect x="278" y="250" width="3" height="38" fill="#2f4f4f"/>
<rect x="279" y="251" width="1" height="36" fill="#90ee90"/>
<rect x="283" y="264" width="1" height="19" fill="#8b0000"/>
<rect x="282" y="266" width="3" height="6" fill="#8b0000"/>
<rect x="283" y="267" width="1" height="4" fill="#ff0000"/>
<rect x="287" y="258" width="1" height="20" fill="#2f4f4f"/>
<rect x="286" y="266" width="3" height="3" fill="#2f4f4f"/>
<rect x="287" y="267" width="1" height="1" fill="#90ee90"/>
<rect x="291" y="277" width="1" height="31" fill="#2f4f4f"/>
<rect x="290" y="278" width="3" height="21" fill="#2f4f4f"/>
<rect x="291" y="279" width="1" height="19" fill="#90ee90"/>
<rect x="295" y="285" width="1" height="23" fill="#2f4f4f"/>
<rect x="294" y="297" width="3" height="1" fill="#2f4f4f"/>
<rect x="299" y="263" width="1" height="39" fill="#8b0000"/>
<rect x="298" y="293" width="3" height="7" fill="#8b0000"/>
<rect x="299" y="294" width="1" height="5" fill="#ff0000"/>
<rect x="303" y="280" width="1" height="22" fill="#8b0000"/>
<rect x="302" y="282" width="3" height="18" fill="#8b0000"/>
<rect x="303" y="283" width="1" height="16" fill="#ff0000"/>
<rect x="307" y="245" width="1" height="15" fill="#8b0000"/>
<rect x="306" y="252" width="3" height="5" fill="#8b0000"/>
<rect x="307" y="253" width="1" height="3" fill="#ff0000"/>
<rect x="311" y="231" width="1" height="18" fill="#2f4f4f"/>
<rect x="310" y="240" width="3" height="3" fill="#2f4f4f"/>
<rect x="311" y="241" width="1" height="1" fill="#90ee90"/>
<rect x="315" y="240" width="1" height="27" fill="#2f4f4f"/>
<rect x="314" y="244" width="3" height="18" fill="#2f4f4f"/>
<rect x="315" y="245" width="1" height="16" fill="#90ee90"/>
<rect x="319" y="258" width="1" height="18" fill="#8b0000"/>
<rect x="318" y="272" width="3" height="4" fill="#8b0000"/>
<rect x="319" y="273" width="1" height="2" fill="#ff0000"/>
<rect x="323" y="274" width="1" height="35" fill="#2f4f4f"/>
<rect x="322" y="275" width="3" height="32" fill="#2f4f4f"/>
<rect x="323" y="276" width="1" height="30" fill="#90ee90"/>
<rect x="327" y="305" width="1" height="31" fill="#8b0000"/>
<rect x="326" y="307" width="3" height="18" fill="#8b0000"/>
<rect x="327" y="308" width="1" height="16" fill="#ff0000"/>
<rect x="331" y="290" width="1" height="27" fill="#8b0000"/>
<rect x="330" y="294" width="3" height="20" fill="#8b0000"/>
<rect x="331" y="295" width="1" height="18" fill="#ff0000"/>
<rect x="335" y="284" width="1" height="28" fill="#8b0000"/>
<rect x="334" y="296" width="3" height="14" fill="#8b0000"/>
<rect x="335" y="297" width="1" height="12" fill="#ff0000"/>
<rect x="339" y="337" width="1" height="30" fill="#2f4f4f"/>
<rect x="338" y="346" width="3" height="19" fill="#2f4f4f"/>
<rect x="339" y="347" width="1" height="17" fill="#90ee90"/>
<rect x="343" y="384" width="1" height="29" fill="#2f4f4f"/>
<rect x="342" y="398" width="3" height="3" fill="#2f4f4f"/>
<rect x="343" y="399" width="1" height="1" fill="#90ee90"/>
<rect x="347" y="356" width="1" height="74" fill="#8b0000"/>
<rect x="346" y="385" width="3" height="42" fill="#8b0000"/>
<rect x="347" y="386" width="1" height="40" fill="#ff0000"/>
<rect x="351" y="345" width="1" height="58" fill="#2f4f4f"/>
<rect x="350" y="350" width="3" height="43" fill="#2f4f4f"/>
<rect x="351" y="351" width="1" height="41" fill="#90ee90"/>
<rect x="355" y="291" width="1" height="113" fill="#8b0000"/>
<rect x="354" y="296" width="3" height="98" fill="#8b0000"/>
<rect x="355" y="297" width="1" height="96" fill="#ff0000"/>
<rect x="359" y="300" width="1" height="60" fill="#2f4f4f"/>
<rect x="358" y="307" width="3" height="39" fill="#2f4f4f"/>
<rect x="359" y="308" width="1" height="37" fill="#90ee90"/>
<rect x="363" y="345" width="1" height="24" fill="#8b0000"/>
<rect x="362" y="350" width="3" height="10" fill="#8b0000"/>
<rect x="363" y="351" width="1" height="8" fill="#ff0000"/>
<rect x="367" y="332" width="1" height="38" fill="#2f4f4f"/>
<rect x="366" y="333" width="3" height="32" fill="#2f4f4f"/>
<rect x="367" y="334" width="1" height="30" fill="#90ee90"/>
<rect x="371" y="357" width="1" height="27" fill="#2f4f4f"/>
<rect x="370" y="364" width="3" height="15" fill="#2f4f4f"/>
<rect x="371" y="365" width="1" height="13" fill="#90ee90"/>
<rect x="375" y="389" width="1" height="22" fill="#2f4f4f"/>
<rect x="374" y="395" width="3" height="8" fill="#2f4f4f"/>
<rect x="375" y="396" width="1" height="6" fill="#90ee90"/>
<rect x="379" y="396" width="1" height="12" fill="#2f4f4f"/>
<rect x="378" y="399" width="3" height="5" fill="#2f4f4f"/>
<rect x="379" y="400" width="1" height="3" fill="#90ee90"/>
<rect x="383" y="414" width="1" height="18" fill="#2f4f4f"/>
<rect x="382" y="418" width="3" height="9" fill="#2f4f4f"/>
<rect x="383" y="419" width="1" height="7" fill="#90ee90"/>
<rect x="387" y="398" width="1" height="25" fill="#8b0000"/>
<rect x="386" y="405" width="3" height="12" fill="#8b0000"/>
<rect x="387" y="406" width="1" height="10" fill="#ff0000"/>
<rect x="391" y="360" width="1" height="24" fill="#2f4f4f"/>
<rect x="390" y="368" width="3" height="13" fill="#2f4f4f"/>
<rect x="391" y="369" width="1" height="11" fill="#90ee90"/>
<rect x="395" y="361" width="1" height="22" fill="#8b0000"/>
<rect x="394" y="363" width="3" height="19" fill="#8b0000"/>
<rect x="395" y="364" width="1" height="17" fill="#ff0000"/>
<rect x="399" y="341" width="1" height="18" fill="#8b0000"/>
<rect x="398" y="344" width="3" height="2" fill="#8b0000"/>
<rect x="403" y="331" width="1" height="23" fill="#2f4f4f"/>
<rect x="402" y="333" width="3" height="8" fill="#2f4f4f"/>
<rect x="403" y="334" width="1" height="6" fill="#90ee90"/>
<rect x="407" y="332" width="1" height="17" fill="#8b0000"/>
<rect x="406" y="335" width="3" height="13" fill="#8b0000"/>
<rect x="407" y="336" width="1" height="11" fill="#ff0000"/>
<rect x="411" y="341" width="1" height="27" fill="#8b0000"/>
<rect x="410" y="346" width="3" height="10" fill="#8b0000"/>
<rect x="411" y="347" width="1" height="8" fill="#ff0000"/>
<rect x="415" y="284" width="1" height="33" fill="#2f4f4f"/>
<rect x="414" y="286" width="3" height="26" fill="#2f4f4f"/>
<rect x="415" y="287" width="1" height="24" fill="#90ee90"/>
<rect x="419" y="270" width="1" height="34" fill="#8b0000"/>
<rect x="418" y="279" width="3" height="19" fill="#8b0000"/>
<rect x="419" y="280" width="1" height="17" fill="#ff0000"/>
<rect x="423" y="271" width="1" height="21" fill="#8b0000"/>
<rect x="422" y="277" width="3" height="11" fill="#8b0000"/>
<rect x="423" y="278" width="1" height="9" fill="#ff0000"/>
<rect x="427" y="281" width="1" height="13" fill="#2f4f4f"/>
<rect x="426" y="288" width="3" height="5" fill="#2f4f4f"/>
<rect x="427" y="289" width="1" height="3" fill="#90ee90"/>
<rect x="431" y="271" width="1" height="23" fill="#8b0000"/>
<rect x="430" y="280" width="3" height="9" fill="#8b0000"/>
<rect x="431" y="281" width="1" height="7" fill="#ff0000"/>
<rect x="435" y="261" width="1" height="19" fill="#2f4f4f"/>
<rect x="434" y="267" width="3" height="12" fill="#2f4f4f"/>
<rect x="435" y="268" width="1" height="10" fill="#90ee90"/>
<rect x="439" y="266" width="1" height="21" fill="#2f4f4f"/>
<rect x="438" y="271" width="3" height="15" fill="#2f4f4f"/>
<rect x="439" y="272" width="1" height="13" fill="#90ee90"/>
<rect x="443" y="223" width="1" height="26" fill="#8b0000"/>
<rect x="442" y="224" width="3" height="13" fill="#8b0000"/>
<rect x="443" y="225" width="1" height="11" fill="#ff0000"/>
<rect x="447" y="196" width="1" height="25" fill="#8b0000"/>
<rect x="446" y="202" width="3" height="14" fill="#8b0000"/>
<rect x="447" y="203" width="1" height="12" fill="#ff0000"/>
<rect x="451" y="194" width="1" height="11" fill="#2f4f4f"/>
<rect x="450" y="195" width="3" height="4" fill="#2f4f4f"/>
<rect x="451" y="196" width="1" height="2" fill="#90ee90"/>
<rect x="455" y="201" width="1" height="25" fill="#2f4f4f"/>
<rect x="454" y="205" width="3" height="14" fill="#2f4f4f"/>
<rect x="455" y="206" width="1" height="12" fill="#90ee90"/>
<rect x="459" y="223" width="1" height="18" fill="#8b0000"/>
<rect x="458" y="223" width="3" height="4" fill="#8b0000"/>
<rect x="459" y="224" width="1" height="2" fill="#ff0000"/>
<rect x="463" y="219" width="1" height="25" fill="#8b0000"/>
<rect x="462" y="223" width="3" height="17" fill="#8b0000"/>
<rect x="463" y="224" width="1" height="15" fill="#ff0000"/>
<rect x="467" y="226" width="1" height="8" fill="#8b0000"/>
<rect x="466" y="227" width="3" height="3" fill="#8b0000"/>
<rect x="467" y="228" width="1" height="1" fill="#ff0000"/>
<rect x="471" y="215" width="1" height="21" fill="#8b0000"/>
<rect x="470" y="231" width="3" height="4" fill="#8b0000"/>
<rect x="471" y="232" width="1" height="2" fill="#ff0000"/>
<rect x="475" y="219" width="1" height="17" fill="#8b0000"/>
<rect x="474" y="228" width="3" height="3" fill="#8b0000"/>
<rect x="475" y="229" width="1" height="1" fill="#ff0000"/>
<rect x="479" y="233" width="1" height="13" fill="#8b0000"/>
<rect x="478" y="241" width="3" height="5" fill="#8b0000"/>
<rect x="479" y="242" width="1" height="3" fill="#ff0000"/>
<rect x="483" y="219" width="1" height="15" fill="#8b0000"/>
<rect x="482" y="220" width="3" height="10" fill="#8b0000"/>
<rect x="483" y="221" width="1" height="8" fill="#ff0000"/>
<rect x="487" y="209" width="1" height="13" fill="#8b0000"/>
<rect x="486" y="218" width="3" height="2" fill="#8b0000"/>
<rect x="491" y="206" width="1" height="19" fill="#2f4f4f"/>
<rect x="490" y="210" width="3" height="9" fill="#2f4f4f"/>
<rect x="491" y="211" width="1" height="7" fill="#90ee90"/>
<rect x="495" y="211" width="1" height="22" fill="#8b0000"/>
<rect x="494" y="215" width="3" height="6" fill="#8b0000"/>
<rect x="495" y="216" width="1" height="4" fill="#ff0000"/>
<rect x="499" y="180" width="1" height="39" fill="#8b0000"/>
<rect x="498" y="183" width="3" height="36" fill="#8b0000"/>
<rect x="499" y="184" width="1" height="34" fill="#ff0000"/>
<rect x="503" y="178" width="1" height="14" fill="#2f4f4f"/>
<rect x="502" y="183" width="3" height="5" fill="#2f4f4f"/>
<rect x="503" y="184" width="1" height="3" fill="#90ee90"/>
<rect x="507" y="160" width="1" height="28" fill="#8b0000"/>
<rect x="506" y="161" width="3" height="25" fill="#8b0000"/>
<rect x="507" y="162" width="1" height="23" fill="#ff0000"/>
<rect x="511" y="152" width="1" height="17" fill="#2f4f4f"/>
<rect x="510" y="156" width="3" height="10" fill="#2f4f4f"/>
<rect x="511" y="157" width="1" height="8" fill="#90ee90"/>
<rect x="515" y="143" width="1" height="14" fill="#8b0000"/>
<rect x="514" y="148" width="3" height="3" fill="#8b0000"/>
<rect x="515" y="149" width="1" height="1" fill="#ff0000"/>
<rect x="519" y="138" width="1" height="16" fill="#2f4f4f"/>
<rect x="518" y="148" width="3" height="6" fill="#2f4f4f"/>
<rect x="519" y="149" width="1" height="4" fill="#90ee90"/>
<rect x="523" y="140" width="1" height="17" fill="#8b0000"/>
<rect x="522" y="142" width="3" height="3" fill="#8b0000"/>
<rect x="523" y="143" width="1" height="1" fill="#ff0000"/>
<rect x="527" y="134" width="1" height="22" fill="#2f4f4f"/>
<rect x="526" y="141" width="3" height="13" fill="#2f4f4f"/>
<rect x="527" y="142" width="1" height="11" fill="#90ee90"/>
<rect x="531" y="151" width="1" height="13" fill="#8b0000"/>
<rect x="530" y="154" width="3" height="2" fill="#8b0000"/>
<rect x="535" y="155" width="1" height="16" fill="#2f4f4f"/>
<rect x="534" y="161" width="3" height="7" fill="#2f4f4f"/>
<rect x="535" y="162" width="1" height="5" fill="#90ee90"/>
<rect x="539" y="136" width="1" height="18" fill="#8b0000"/>
<rect x="538" y="142" width="3" height="6" fill="#8b0000"/>
<rect x="539" y="143" width="1" height="4" fill="#ff0000"/>
<rect x="543" y="137" width="1" height="13" fill="#2f4f4f"/>
<rect x="542" y="143" width="3" height="7" fill="#2f4f4f"/>
<rect x="543" y="144" width="1" height="5" fill="#90ee90"/>
<rect x="547" y="143" width="1" height="10" fill="#2f4f4f"/>
<rect x="546" y="148" width="3" height="4" fill="#2f4f4f"/>
<rect x="547" y="149" width="1" height="2" fill="#90ee90"/>
<rect x="551" y="143" width="1" height="31" fill="#2f4f4f"/>
<rect x="550" y="145" width="3" height="23" fill="#2f4f4f"/>
<rect x="551" y="146" width="1" height="21" fill="#90ee90"/>
<rect x="555" y="146" width="1" height="28" fill="#8b0000"/>
<rect x="554" y="147" width="3" height="21" fill="#8b0000"/>
<rect x="555" y="148" width="1" height="19" fill="#ff0000"/>
<rect x="559" y="129" width="1" height="14" fill="#8b0000"/>
<rect x="558" y="130" width="3" height="10" fill="#8b0000"/>
<rect x="559" y="131" width="1" height="8" fill="#ff0000"/>
<rect x="563" y="124" width="1" height="14" fill="#2f4f4f"/>
<rect x="562" y="128" width="3" height="7" fill="#2f4f4f"/>
<rect x="563" y="129" width="1" height="5" fill="#90ee90"/>
<rect x="567" y="108" width="1" height="25" fill="#8b0000"/>
<rect x="566" y="111" width="3" height="17" fill="#8b0000"/>
<rect x="567" y="112" width="1" height="15" fill="#ff0000"/>
<rect x="571" y="99" width="1" height="13" fill="#8b0000"/>
<rect x="570" y="103" width="3" height="8" fill="#8b0000"/>
<rect x="571" y="104" width="1" height="6" fill="#ff0000"/>
<rect x="575" y="83" width="1" height="18" fill="#2f4f4f"/>
<rect x="574" y="88" width="3" height="8" fill="#2f4f4f"/>
<rect x="575" y="89" width="1" height="6" fill="#90ee90"/>
<rect x="579" y="96" width="1" height="30" fill="#2f4f4f"/>
<rect x="578" y="97" width="3" height="23" fill="#2f4f4f"/>
<rect x="579" y="98" width="1" height="21" fill="#90ee90"/>
<rect x="583" y="119" width="1" height="10" fill="#2f4f4f"/>
<rect x="582" y="126" width="3" height="3" fill="#2f4f4f"/>
<rect x="583" y="127" width="1" height="1" fill="#90ee90"/>
<rect x="587" y="107" width="1" height="20" fill="#2f4f4f"/>
<rect x="586" y="111" width="3" height="11" fill="#2f4f4f"/>
<rect x="587" y="112" width="1" height="9" fill="#90ee90"/>
<rect x="591" y="110" width="1" height="19" fill="#8b0000"/>
<rect x="590" y="121" width="3" height="2" fill="#8b0000"/>
<rect x="595" y="115" width="1" height="12" fill="#2f4f4f"/>
<rect x="594" y="117" width="3" height="2" fill="#2f4f4f"/>
<rect x="599" y="96" width="1" height="21" fill="#8b0000"/>
<rect x="598" y="102" width="3" height="14" fill="#8b0000"/>
<rect x="599" y="103" width="1" height="12" fill="#ff0000"/>
<rect x="603" y="99" width="1" height="21" fill="#2f4f4f"/>
<rect x="602" y="104" width="3" height="7" fill="#2f4f4f"/>
<rect x="603" y="105" width="1" height="5" fill="#90ee90"/>
<rect x="607" y="111" width="1" height="22" fill="#2f4f4f"/>
<rect x="606" y="116" width="3" height="7" fill="#2f4f4f"/>
<rect x="607" y="117" width="1" height="5" fill="#90ee90"/>
<rect x="611" y="109" width="1" height="21" fill="#8b0000"/>
<rect x="610" y="118" width="3" height="12" fill="#8b0000"/>
<rect x="611" y="119" width="1" height="10" fill="#ff0000"/>
<rect x="615" y="112" width="1" height="21" fill="#2f4f4f"/>
<rect x="614" y="119" width="3" height="13" fill="#2f4f4f"/>
<rect x="615" y="120" width="1" height="11" fill="#90ee90"/>
<rect x="619" y="126" width="1" height="21" fill="#2f4f4f"/>
<rect x="618" y="130" width="3" height="10" fill="#2f4f4f"/>
<rect x="619" y="131" width="1" height="8" fill="#90ee90"/>
<rect x="623" y="135" width="1" height="15" fill="#2f4f4f"/>
<rect x="622" y="140" width="3" height="3" fill="#2f4f4f"/>
<rect x="623" y="141" width="1" height="1" fill="#90ee90"/>
<rect x="627" y="136" width="1" height="21" fill="#8b0000"/>
<rect x="626" y="140" width="3" height="2" fill="#8b0000"/>
<rect x="631" y="123" width="1" height="17" fill="#8b0000"/>
<rect x="630" y="127" width="3" height="13" fill="#8b0000"/>
<rect x="631" y="128" width="1" height="11" fill="#ff0000"/>
<rect x="635" y="123" width="1" height="19" fill="#2f4f4f"/>
<rect x="634" y="127" width="3" height="12" fill="#2f4f4f"/>
<rect x="635" y="128" width="1" height="10" fill="#90ee90"/>
<rect x="639" y="123" width="1" height="17" fill="#8b0000"/>
<rect x="638" y="126" width="3" height="13" fill="#8b0000"/>
<rect x="639" y="127" width="1" height="11" fill="#ff0000"/>
<rect x="643" y="115" width="1" height="13" fill="#8b0000"/>
<rect x="642" y="125" width="3" height="1" fill="#8b0000"/>
<rect x="647" y="124" width="1" height="4" fill="#8b0000"/>
<rect x="646" y="124" width="3" height="2" fill="#8b0000"/>
<rect x="651" y="114" width="1" height="13" fill="#8b0000"/>
<rect x="650" y="123" width="3" height="2" fill="#8b0000"/>
<rect x="655" y="114" width="1" height="33" fill="#2f4f4f"/>
<rect x="654" y="123" width="3" height="16" fill="#2f4f4f"/>
<rect x="655" y="124" width="1" height="14" fill="#90ee90"/>
<rect x="659" y="51" width="1" height="105" fill="#8b0000"/>
<rect x="658" y="75" width="3" height="64" fill="#8b0000"/>
<rect x="659" y="76" width="1" height="62" fill="#ff0000"/>
<rect x="663" y="35" width="1" height="40" fill="#8b0000"/>
<rect x="662" y="51" width="3" height="24" fill="#8b0000"/>
<rect x="663" y="52" width="1" height="22" fill="#ff0000"/>
<rect x="667" y="48" width="1" height="6" fill="#8b0000"/>
<rect x="666" y="51" width="3" height="1" fill="#8b0000"/>
<rect x="671" y="43" width="1" height="33" fill="#8b0000"/>
<rect x="670" y="44" width="3" height="31" fill="#8b0000"/>
<rect x="671" y="45" width="1" height="29" fill="#ff0000"/>
<rect x="675" y="37" width="1" height="28" fill="#2f4f4f"/>
<rect x="674" y="44" width="3" height="20" fill="#2f4f4f"/>
<rect x="675" y="45" width="1" height="18" fill="#90ee90"/>
<rect x="679" y="49" width="1" height="18" fill="#8b0000"/>
<rect x="678" y="54" width="3" height="10" fill="#8b0000"/>
<rect x="679" y="55" width="1" height="8" fill="#ff0000"/>
<rect x="683" y="42" width="1" height="25" fill="#2f4f4f"/>
<rect x="682" y="54" width="3" height="9" fill="#2f4f4f"/>
<rect x="683" y="55" width="1" height="7" fill="#90ee90"/>
<rect x="687" y="54" width="1" height="16" fill="#8b0000"/>
<rect x="686" y="54" width="3" height="10" fill="#8b0000"/>
<rect x="687" y="55" width="1" height="8" fill="#ff0000"/>
<rect x="691" y="51" width="1" height="10" fill="#2f4f4f"/>
<rect x="690" y="56" width="3" height="4" fill="#2f4f4f"/>
<rect x="691" y="57" width="1" height="2" fill="#90ee90"/>
<rect x="695" y="23" width="1" height="38" fill="#8b0000"/>
<rect x="694" y="28" width="3" height="32" fill="#8b0000"/>
<rect x="695" y="29" width="1" height="30" fill="#ff0000"/>
<rect x="699" y="22" width="1" height="22" fill="#2f4f4f"/>
<rect x="698" y="27" width="3" height="15" fill="#2f4f4f"/>
<rect x="699" y="28" width="1" height="13" fill="#90ee90"/>
<rect x="703" y="40" width="1" height="11" fill="#8b0000"/>
<rect x="702" y="40" width="3" height="2" fill="#8b0000"/>
<rect x="707" y="40" width="1" height="1" fill="#2f4f4f"/>
<rect x="706" y="40" width="3" height="1" fill="#2f4f4f"/>
<rect x="711" y="35" width="1" height="37" fill="#2f4f4f"/>
<rect x="710" y="37" width="3" height="21" fill="#2f4f4f"/>
<rect x="711" y="38" width="1" height="19" fill="#90ee90"/>
<rect x="715" y="57" width="1" height="24" fill="#2f4f4f"/>
<rect x="714" y="58" width="3" height="22" fill="#2f4f4f"/>
<rect x="715" y="59" width="1" height="20" fill="#90ee90"/>
<rect x="719" y="79" width="1" height="27" fill="#2f4f4f"/>
<rect x="718" y="80" width="3" height="6" fill="#2f4f4f"/>
<rect x="719" y="81" width="1" height="4" fill="#90ee90"/>
<rect x="723" y="82" width="1" height="21" fill="#2f4f4f"/>
<rect x="722" y="86" width="3" height="10" fill="#2f4f4f"/>
<rect x="723" y="87" width="1" height="8" fill="#90ee90"/>
<rect x="727" y="72" width="1" height="29" fill="#8b0000"/>
<rect x="726" y="73" width="3" height="22" fill="#8b0000"/>
<rect x="727" y="74" width="1" height="20" fill="#ff0000"/>
<rect x="731" y="70" width="1" height="10" fill="#8b0000"/>
<rect x="730" y="76" width="3" height="3" fill="#8b0000"/>
<rect x="731" y="77" width="1" height="1" fill="#ff0000"/>
<rect x="735" y="75" width="1" height="4" fill="#8b0000"/>
<rect x="734" y="75" width="3" height="2" fill="#8b0000"/>
<rect x="739" y="75" width="1" height="15" fill="#2f4f4f"/>
<rect x="738" y="75" width="3" height="9" fill="#2f4f4f"/>
<rect x="739" y="76" width="1" height="7" fill="#90ee90"/>
<rect x="743" y="77" width="1" height="16" fill="#8b0000"/>
<rect x="742" y="80" width="3" height="5" fill="#8b0000"/>
<rect x="743" y="81" width="1" height="3" fill="#ff0000"/>
<rect x="747" y="80" width="1" height="19" fill="#2f4f4f"/>
<rect x="746" y="80" width="3" height="16" fill="#2f4f4f"/>
<rect x="747" y="81" width="1" height="14" fill="#90ee90"/>
<rect x="751" y="99" width="1" height="19" fill="#8b0000"/>
<rect x="750" y="99" width="3" height="5" fill="#8b0000"/>
<rect x="751" y="100" width="1" height="3" fill="#ff0000"/>
<rect x="755" y="91" width="1" height="11" fill="#8b0000"/>
<rect x="754" y="96" width="3" height="3" fill="#8b0000"/>
<rect x="755" y="97" width="1" height="1" fill="#ff0000"/>
<rect x="759" y="66" width="1" height="32" fill="#8b0000"/>
<rect x="758" y="82" width="3" height="14" fill="#8b0000"/>
<rect x="759" y="83" width="1" height="12" fill="#ff0000"/>
<rect x="763" y="70" width="1" height="16" fill="#8b0000"/>
<rect x="762" y="80" width="3" height="2" fill="#8b0000"/>
<rect x="767" y="58" width="1" height="23" fill="#8b0000"/>
<rect x="766" y="78" width="3" height="2" fill="#8b0000"/>
<rect x="771" y="59" width="1" height="20" fill="#8b0000"/>
<rect x="770" y="61" width="3" height="17" fill="#8b0000"/>
<rect x="771" y="62" width="1" height="15" fill="#ff0000"/>
<rect x="775" y="58" width="1" height="22" fill="#2f4f4f"/>
<rect x="774" y="61" width="3" height="16" fill="#2f4f4f"/>
<rect x="775" y="62" width="1" height="14" fill="#90ee90"/>
<rect x="779" y="72" width="1" height="11" fill="#2f4f4f"/>
<rect x="778" y="76" width="3" height="3" fill="#2f4f4f"/>
<rect x="779" y="77" width="1" height="1" fill="#90ee90"/>
<rect x="783" y="72" width="1" height="21" fill="#8b0000"/>
<rect x="782" y="75" width="3" height="4" fill="#8b0000"/>
<rect x="783" y="76" width="1" height="2" fill="#ff0000"/>
<rect x="787" y="49" width="1" height="32" fill="#8b0000"/>
<rect x="786" y="61" width="3" height="15" fill="#8b0000"/>
<rect x="787" y="62" width="1" height="13" fill="#ff0000"/>
<rect x="791" y="39" width="1" height="23" fill="#8b0000"/>
<rect x="790" y="43" width="3" height="18" fill="#8b0000"/>
<rect x="791" y="44" width="1" height="16" fill="#ff0000"/>
<rect x="795" y="37" width="1" height="18" fill="#2f4f4f"/>
<rect x="794" y="43" width="3" height="4" fill="#2f4f4f"/>
<rect x="795" y="44" width="1" height="2" fill="#90ee90"/>
<rect x="799" y="31" width="1" height="20" fill="#8b0000"/>
<rect x="798" y="40" width="3" height="7" fill="#8b0000"/>
<rect x="799" y="41" width="1" height="5" fill="#ff0000"/>
<rect x="803" y="27" width="1" height="27" fill="#2f4f4f"/>
<rect x="802" y="40" width="3" height="6" fill="#2f4f4f"/>
<rect x="803" y="41" width="1" height="4" fill="#90ee90"/>
<rect x="807" y="34" width="1" height="27" fill="#2f4f4f"/>
<rect x="806" y="53" width="3" height="7" fill="#2f4f4f"/>
<rect x="807" y="54" width="1" height="5" fill="#90ee90"/>
<rect x="811" y="56" width="1" height="24" fill="#2f4f4f"/>
<rect x="810" y="59" width="3" height="13" fill="#2f4f4f"/>
<rect x="811" y="60" width="1" height="11" fill="#90ee90"/>
<rect x="815" y="64" width="1" height="12" fill="#8b0000"/>
<rect x="814" y="68" width="3" height="4" fill="#8b0000"/>
<rect x="815" y="69" width="1" height="2" fill="#ff0000"/>
<rect x="819" y="68" width="1" height="20" fill="#2f4f4f"/>
<rect x="818" y="72" width="3" height="8" fill="#2f4f4f"/>
<rect x="819" y="73" width="1" height="6" fill="#90ee90"/>
<rect x="823" y="74" width="1" height="14" fill="#2f4f4f"/>
<rect x="822" y="78" width="3" height="6" fill="#2f4f4f"/>
<rect x="823" y="79" width="1" height="4" fill="#90ee90"/>
<rect x="827" y="79" width="1" height="12" fill="#2f4f4f"/>
<rect x="826" y="84" width="3" height="6" fill="#2f4f4f"/>
<rect x="827" y="85" width="1" height="4" fill="#90ee90"/>
<rect x="831" y="86" width="1" height="18" fill="#2f4f4f"/>
<rect x="830" y="90" width="3" height="12" fill="#2f4f4f"/>
<rect x="831" y="91" width="1" height="10" fill="#90ee90"/>
<rect x="835" y="98" width="1" height="24" fill="#2f4f4f"/>
<rect x="834" y="100" width="3" height="21" fill="#2f4f4f"/>
<rect x="835" y="101" width="1" height="19" fill="#90ee90"/>
<rect x="839" y="109" width="1" height="15" fill="#8b0000"/>
<rect x="838" y="109" width="3" height="14" fill="#8b0000"/>
<rect x="839" y="110" width="1" height="12" fill="#ff0000"/>
<rect x="843" y="104" width="1" height="25" fill="#2f4f4f"/>
<rect x="842" y="110" width="3" height="18" fill="#2f4f4f"/>
<rect x="843" y="111" width="1" height="16" fill="#90ee90"/>
<rect x="847" y="123" width="1" height="33" fill="#8b0000"/>
<rect x="846" y="125" width="3" height="5" fill="#8b0000"/>
<rect x="847" y="126" width="1" height="3" fill="#ff0000"/>
<rect x="851" y="121" width="1" height="18" fill="#2f4f4f"/>
<rect x="850" y="126" width="3" height="4" fill="#2f4f4f"/>
<rect x="851" y="127" width="1" height="2" fill="#90ee90"/>
<rect x="855" y="121" width="1" height="14" fill="#8b0000"/>
<rect x="854" y="122" width="3" height="8" fill="#8b0000"/>
<rect x="855" y="123" width="1" height="6" fill="#ff0000"/>
<rect x="859" y="101" width="1" height="28" fill="#8b0000"/>
<rect x="858" y="102" width="3" height="21" fill="#8b0000"/>
<rect x="859" y="103" width="1" height="19" fill="#ff0000"/>
<rect x="863" y="98" width="1" height="50" fill="#2f4f4f"/>
<rect x="862" y="102" width="3" height="45" fill="#2f4f4f"/>
<rect x="863" y="103" width="1" height="43" fill="#90ee90"/>
<rect x="867" y="119" width="1" height="16" fill="#2f4f4f"/>
<rect x="866" y="124" width="3" height="6" fill="#2f4f4f"/>
<rect x="867" y="125" width="1" height="4" fill="#90ee90"/>
<rect x="871" y="124" width="1" height="23" fill="#2f4f4f"/>
<rect x="870" y="129" width="3" height="5" fill="#2f4f4f"/>
<rect x="871" y="130" width="1" height="3" fill="#90ee90"/>
<rect x="875" y="124" width="1" height="10" fill="#8b0000"/>
<rect x="874" y="125" width="3" height="9" fill="#8b0000"/>
<rect x="875" y="126" width="1" height="7" fill="#ff0000"/>
<rect x="879" y="120" width="1" height="21" fill="#2f4f4f"/>
<rect x="878" y="124" width="3" height="7" fill="#2f4f4f"/>
<rect x="879" y="125" width="1" height="5" fill="#90ee90"/>
<rect x="883" y="122" width="1" height="26" fill="#8b0000"/>
<rect x="882" y="123" width="3" height="8" fill="#8b0000"/>
<rect x="883" y="124" width="1" height="6" fill="#ff0000"/>
<rect x="887" y="110" width="1" height="14" fill="#8b0000"/>
<rect x="886" y="110" width="3" height="10" fill="#8b0000"/>
<rect x="887" y="111" width="1" height="8" fill="#ff0000"/>
<rect x="891" y="106" width="1" height="9" fill="#8b0000"/>
<rect x="890" y="108" width="3" height="5" fill="#8b0000"/>
<rect x="891" y="109" width="1" height="3" fill="#ff0000"/>
<rect x="895" y="102" width="1" height="12" fill="#8b0000"/>
<rect x="894" y="104" width="3" height="3" fill="#8b0000"/>
<rect x="895" y="105" width="1" height="1" fill="#ff0000"/>
<rect x="899" y="98" width="1" height="10" fill="#8b0000"/>
<rect x="898" y="100" width="3" height="3" fill="#8b0000"/>
<rect x="899" y="101" width="1" height="1" fill="#ff0000"/>
<rect x="903" y="92" width="1" height="10" fill="#8b0000"/>
<rect x="902" y="94" width="3" height="6" fill="#8b0000"/>
<rect x="903" y="95" width="1" height="4" fill="#ff0000"/>
<rect x="907" y="72" width="1" height="24" fill="#8b0000"/>
<rect x="906" y="85" width="3" height="9" fill="#8b0000"/>
<rect x="907" y="86" width="1" height="7" fill="#ff0000"/>
<rect x="911" y="69" width="1" height="17" fill="#8b0000"/>
<rect x="910" y="77" width="3" height="8" fill="#8b0000"/>
<rect x="911" y="78" width="1" height="6" fill="#ff0000"/>
<rect x="915" y="68" width="1" height="101" fill="#2f4f4f"/>
<rect x="914" y="77" width="3" height="86" fill="#2f4f4f"/>
<rect x="915" y="78" width="1" height="84" fill="#90ee90"/>
<rect x="919" y="146" width="1" height="65" fill="#2f4f4f"/>
<rect x="918" y="163" width="3" height="20" fill="#2f4f4f"/>
<rect x="919" y="164" width="1" height="18" fill="#90ee90"/>
<rect x="923" y="174" width="1" height="42" fill="#2f4f4f"/>
<rect x="922" y="183" width="3" height="28" fill="#2f4f4f"/>
<rect x="923" y="184" width="1" height="26" fill="#90ee90"/>
<rect x="927" y="198" width="1" height="31" fill="#2f4f4f"/>
<rect x="926" y="208" width="3" height="17" fill="#2f4f4f"/>
<rect x="927" y="209" width="1" height="15" fill="#90ee90"/>
<rect x="931" y="221" width="1" height="23" fill="#2f4f4f"/>
<rect x="930" y="224" width="3" height="17" fill="#2f4f4f"/>
<rect x="931" y="225" width="1" height="15" fill="#90ee90"/>
<rect x="935" y="221" width="1" height="25" fill="#8b0000"/>
<rect x="934" y="226" width="3" height="16" fill="#8b0000"/>
<rect x="935" y="227" width="1" height="14" fill="#ff0000"/>
<rect x="939" y="221" width="1" height="32" fill="#2f4f4f"/>
<rect x="938" y="226" width="3" height="24" fill="#2f4f4f"/>
<rect x="939" y="227" width="1" height="22" fill="#90ee90"/>
<rect x="943" y="244" width="1" height="30" fill="#8b0000"/>
<rect x="942" y="245" width="3" height="5" fill="#8b0000"/>
<rect x="943" y="246" width="1" height="3" fill="#ff0000"/>
<rect x="947" y="230" width="1" height="15" fill="#2f4f4f"/>
<rect x="946" y="232" width="3" height="3" fill="#2f4f4f"/>
<rect x="947" y="233" width="1" height="1" fill="#90ee90"/>
<rect x="951" y="231" width="1" height="19" fill="#2f4f4f"/>
<rect x="950" y="234" width="3" height="7" fill="#2f4f4f"/>
<rect x="951" y="235" width="1" height="5" fill="#90ee90"/>
<rect x="955" y="245" width="1" height="20" fill="#2f4f4f"/>
<rect x="954" y="246" width="3" height="17" fill="#2f4f4f"/>
<rect x="955" y="247" width="1" height="15" fill="#90ee90"/>
<rect x="959" y="255" width="1" height="16" fill="#2f4f4f"/>
<rect x="958" y="260" width="3" height="8" fill="#2f4f4f"/>
<rect x="959" y="261" width="1" height="6" fill="#90ee90"/>
<rect x="963" y="258" width="1" height="17" fill="#8b0000"/>
<rect x="962" y="262" width="3" height="6" fill="#8b0000"/>
<rect x="963" y="263" width="1" height="4" fill="#ff0000"/>
<rect x="967" y="262" width="1" height="22" fill="#2f4f4f"/>
<rect x="966" y="266" width="3" height="12" fill="#2f4f4f"/>
<rect x="967" y="267" width="1" height="10" fill="#90ee90"/>
<rect x="971" y="272" width="1" height="20" fill="#2f4f4f"/>
<rect x="970" y="276" width="3" height="10" fill="#2f4f4f"/>
<rect x="971" y="277" width="1" height="8" fill="#90ee90"/>
<rect x="975" y="281" width="1" height="20" fill="#2f4f4f"/>
<rect x="974" y="283" width="3" height="11" fill="#2f4f4f"/>
<rect x="975" y="284" width="1" height="9" fill="#90ee90"/>
<rect x="979" y="268" width="1" height="30" fill="#2f4f4f"/>
<rect x="978" y="283" width="3" height="13" fill="#2f4f4f"/>
<rect x="979" y="284" width="1" height="11" fill="#90ee90"/>
<rect x="983" y="278" width="1" height="24" fill="#8b0000"/>
<rect x="982" y="282" width="3" height="14" fill="#8b0000"/>
<rect x="983" y="283" width="1" height="12" fill="#ff0000"/>
<rect x="987" y="254" width="1" height="25" fill="#8b0000"/>
<rect x="986" y="257" width="3" height="21" fill="#8b0000"/>
<rect x="987" y="258" width="1" height="19" fill="#ff0000"/>
<rect x="991" y="227" width="1" height="37" fill="#8b0000"/>
<rect x="990" y="229" width="3" height="28" fill="#8b0000"/>
<rect x="991" y="230" width="1" height="26" fill="#ff0000"/>
<rect x="995" y="224" width="1" height="12" fill="#2f4f4f"/>
<rect x="994" y="229" width="3" height="1" fill="#2f4f4f"/>
<rect x="999" y="212" width="1" height="18" fill="#8b0000"/>
<rect x="998" y="213" width="3" height="16" fill="#8b0000"/>
<rect x="999" y="214" width="1" height="14" fill="#ff0000"/>
<rect x="1003" y="210" width="1" height="18" fill="#2f4f4f"/>
<rect x="1002" y="213" width="3" height="13" fill="#2f4f4f"/>
<rect x="1003" y="214" width="1" height="11" fill="#90ee90"/>
<rect x="1007" y="208" width="1" height="19" fill="#8b0000"/>
<rect x="1006" y="213" width="3" height="13" fill="#8b0000"/>
<rect x="1007" y="214" width="1" height="11" fill="#ff0000"/>
<rect x="1011" y="205" width="1" height="19" fill="#2f4f4f"/>
<rect x="1010" y="213" width="3" height="3" fill="#2f4f4f"/>
<rect x="1011" y="214" width="1" height="1" fill="#90ee90"/>
<rect x="1015" y="162" width="1" height="63" fill="#8b0000"/>
<rect x="1014" y="210" width="3" height="14" fill="#8b0000"/>
<rect x="1015" y="211" width="1" height="12" fill="#ff0000"/>
<rect x="1019" y="172" width="1" height="39" fill="#8b0000"/>
<rect x="1018" y="186" width="3" height="24" fill="#8b0000"/>
<rect x="1019" y="187" width="1" height="22" fill="#ff0000"/>
<rect x="1023" y="176" width="1" height="22" fill="#2f4f4f"/>
<rect x="1022" y="186" width="3" height="4" fill="#2f4f4f"/>
<rect x="1023" y="187" width="1" height="2" fill="#90ee90"/>
<rect x="1027" y="187" width="1" height="18" fill="#2f4f4f"/>
<rect x="1026" y="189" width="3" height="13" fill="#2f4f4f"/>
<rect x="1027" y="190" width="1" height="11" fill="#90ee90"/>
<rect x="1031" y="194" width="1" height="26" fill="#2f4f4f"/>
<rect x="1030" y="202" width="3" height="9" fill="#2f4f4f"/>
<rect x="1031" y="203" width="1" height="7" fill="#90ee90"/>
<rect x="1035" y="204" width="1" height="20" fill="#8b0000"/>
<rect x="1034" y="206" width="3" height="6" fill="#8b0000"/>
<rect x="1035" y="207" width="1" height="4" fill="#ff0000"/>
<rect x="1039" y="205" width="1" height="20" fill="#2f4f4f"/>
<rect x="1038" y="206" width="3" height="13" fill="#2f4f4f"/>
<rect x="1039" y="207" width="1" height="11" fill="#90ee90"/>
<rect x="1043" y="208" width="1" height="17" fill="#8b0000"/>
<rect x="1042" y="214" width="3" height="6" fill="#8b0000"/>
<rect x="1043" y="215" width="1" height="4" fill="#ff0000"/>
<rect x="1047" y="199" width="1" height="63" fill="#8b0000"/>
<rect x="1046" y="202" width="3" height="13" fill="#8b0000"/>
<rect x="1047" y="203" width="1" height="11" fill="#ff0000"/>
<rect x="1051" y="200" width="1" height="14" fill="#2f4f4f"/>
<rect x="1050" y="205" width="3" height="6" fill="#2f4f4f"/>
<rect x="1051" y="206" width="1" height="4" fill="#90ee90"/>
<rect x="1055" y="183" width="1" height="20" fill="#8b0000"/>
<rect x="1054" y="192" width="3" height="8" fill="#8b0000"/>
<rect x="1055" y="193" width="1" height="6" fill="#ff0000"/>
<rect x="1059" y="184" width="1" height="16" fill="#2f4f4f"/>
<rect x="1058" y="192" width="3" height="6" fill="#2f4f4f"/>
<rect x="1059" y="193" width="1" height="4" fill="#90ee90"/>
<rect x="1063" y="180" width="1" height="22" fill="#8b0000"/>
<rect x="1062" y="196" width="3" height="2" fill="#8b0000"/>
<rect x="1067" y="189" width="1" height="11" fill="#8b0000"/>
<rect x="1066" y="191" width="3" height="5" fill="#8b0000"/>
<rect x="1067" y="192" width="1" height="3" fill="#ff0000"/>
<rect x="1071" y="187" width="1" height="9" fill="#8b0000"/>
<rect x="1070" y="189" width="3" height="2" fill="#8b0000"/>
<rect x="1075" y="186" width="1" height="10" fill="#2f4f4f"/>
<rect x="1074" y="191" width="3" height="4" fill="#2f4f4f"/>
<rect x="1075" y="192" width="1" height="2" fill="#90ee90"/>
<rect x="1079" y="196" width="1" height="9" fill="#2f4f4f"/>
<rect x="1078" y="198" width="3" height="2" fill="#2f4f4f"/>
<rect x="1083" y="181" width="1" height="22" fill="#8b0000"/>
<rect x="1082" y="189" width="3" height="11" fill="#8b0000"/>
<rect x="1083" y="190" width="1" height="9" fill="#ff0000"/>
<rect x="1087" y="188" width="1" height="3" fill="#2f4f4f"/>
<rect x="1086" y="189" width="3" height="1" fill="#2f4f4f"/>
</g>
<polygon points="806.2,23.1 815.6,68.0 831.1,135.0 822.6,134.1 842.8,161.9 846.7,127.8 839.8,132.7 820.1,66.8" fill="#f95252"/>
<polygon points="842.8,162.0 866.6,135.6 901.2,95.0 905.3,101.9 915.0,69.0 885.5,86.6 893.3,88.8 862.5,132.4" fill="#f95252"/>
<polygon points="916.4,69.2 932.4,151.8 958.7,275.2 953.6,273.4 973.4,301.5 977.9,267.4 974.3,271.4 940.5,149.9" fill="#f95252"/>
<polygon points="986.4,301.7 1001.8,260.4 1022.9,197.8 1027.4,202.2 1024.0,168.0 1003.3,195.4 1009.4,194.0 994.8,258.4" fill="#f95252"/>
<polygon points="1032.0,174.8 1046.6,198.5 1069.6,233.2 1061.8,235.3 1091.0,253.4 1081.8,220.3 1077.6,227.2 1050.7,195.4" fill="#f95252"/>
<polygon points="1094.3,246.0 1104.4,220.8 1118.0,182.6 1124.0,187.4 1120.8,153.2 1100.0,180.5 1107.6,179.6 1099.0,219.3" fill="#f95252"/>
<g shape-rendering="crispEdges">
<line x1="0" y1="561.5" x2="1167" y2="561.5" stroke="#ff0000" stroke-width="1"/>
<line x1="0" y1="578.5" x2="1167" y2="578.5" stroke="#ff0000" stroke-width="1" stroke-dasharray="9 3 3 3 3 3" stroke-dashoffset="17"/>
<line x1="0" y1="600.5" x2="1167" y2="600.5" stroke="#707070" stroke-width="1" stroke-dasharray="3 3" stroke-dashoffset="4"/>
<line x1="0" y1="622.5" x2="1167" y2="622.5" stroke="#0000ff" stroke-width="1" stroke-dasharray="9 3 3 3 3 3" stroke-dashoffset="17"/>
<line x1="0" y1="639.5" x2="1167" y2="639.5" stroke="#0000ff" stroke-width="1"/>
</g>
<g fill="none" stroke-width="1" shape-rendering="crispEdges">
<polyline points="-0.5,604.4 3.5,599.1 7.5,592.3 11.5,584.0 15.5,580.7 19.5,580.3 23.5,578.4 27.5,580.9 31.5,580.2 35.5,576.5 39.5,575.9 43.5,581.8 47.5,581.3 51.5,581.8 55.5,590.5 59.5,595.9 63.5,600.5 67.5,600.5 71.5,595.4 75.5,596.4 79.5,599.6 83.5,602.1 87.5,603.5 91.5,599.5 95.5,596.4 99.5,589.5 103.5,589.2 107.5,594.8 111.5,593.2 115.5,597.3 119.5,601.3 123.5,594.1 127.5,594.8 131.5,594.6 135.5,593.9 139.5,589.8 143.5,588.7 147.5,583.9 151.5,583.6 155.5,576.9 159.5,576.3 163.5,572.3 167.5,572.0 171.5,575.1 175.5,573.0 179.5,571.4 183.5,571.0 187.5,569.7 191.5,570.9 195.5,572.2 199.5,571.0 203.5,570.2 207.5,568.5 211.5,575.4 215.5,586.5 219.5,586.8 223.5,590.0 227.5,597.5 231.5,603.5 235.5,599.1 239.5,598.1 243.5,603.5 247.5,600.4 251.5,608.0 255.5,604.8 259.5,607.8 263.5,612.3 267.5,616.0 271.5,614.1 275.5,609.0 279.5,612.7 283.5,612.9 287.5,611.6 291.5,615.3 295.5,615.9 299.5,612.4 303.5,613.7 307.5,604.8 311.5,602.4 315.5,604.9 319.5,607.1 323.5,611.0 327.5,615.1 331.5,611.4 335.5,610.2 339.5,617.3 343.5,622.0 347.5,620.8 351.5,616.9 355.5,611.9 359.5,608.8 363.5,612.1 367.5,611.0 371.5,613.4 375.5,616.6 379.5,616.9 383.5,619.1 387.5,616.5 391.5,609.5 395.5,609.5 399.5,605.7 403.5,604.4 407.5,604.1 411.5,606.2 415.5,597.6 419.5,595.8 423.5,595.0 427.5,596.0 431.5,595.3 435.5,593.5 439.5,594.7 443.5,589.0 447.5,585.6 451.5,584.6 455.5,587.4 459.5,591.0 463.5,591.0 467.5,590.7 471.5,590.1 475.5,590.5 479.5,593.2 483.5,591.1 487.5,589.4 491.5,589.3 495.5,590.9 499.5,587.3 503.5,585.1 507.5,583.5 511.5,581.7 515.5,580.3 519.5,579.8 523.5,580.5 527.5,580.0 531.5,583.7 535.5,585.4 539.5,582.5 543.5,582.3 547.5,583.7 551.5,587.0 555.5,587.5 559.5,583.1 563.5,582.3 567.5,580.6 571.5,578.3 575.5,576.4 579.5,582.6 583.5,586.4 587.5,585.3 591.5,586.0 595.5,586.5 599.5,583.8 603.5,584.8 607.5,588.9 611.5,588.4 615.5,589.4 619.5,593.9 623.5,595.7 627.5,596.8 631.5,593.1 635.5,593.4 639.5,593.0 643.5,590.5 647.5,592.1 651.5,590.6 655.5,594.4 659.5,587.7 663.5,579.1 667.5,578.5 671.5,581.3 675.5,580.0 679.5,582.4 683.5,581.8 687.5,584.3 691.5,583.2 695.5,580.7 699.5,579.1 703.5,583.7 707.5,582.6 711.5,587.3 715.5,592.2 719.5,598.6 723.5,598.6 727.5,597.1 731.5,594.4 735.5,594.9 739.5,596.5 743.5,597.3 747.5,598.9 751.5,604.0 755.5,600.7 759.5,596.8 763.5,595.9 767.5,593.6 771.5,593.4 775.5,593.6 779.5,596.4 783.5,598.0 787.5,593.1 791.5,589.5 795.5,588.5 799.5,587.2 803.5,587.2 807.5,590.0 811.5,597.1 815.5,597.8 819.5,600.4 823.5,601.3 827.5,602.6 831.5,605.7 835.5,609.9 839.5,611.8 843.5,611.8 847.5,617.3 851.5,613.4 855.5,612.7 859.5,608.0 863.5,609.9 867.5,611.1 871.5,613.2 875.5,610.9 879.5,611.2 883.5,612.4 887.5,605.4 891.5,603.1 895.5,602.3 899.5,600.4 903.5,598.4 907.5,594.2 911.5,592.3 915.5,605.6 919.5,617.7 923.5,620.3 927.5,622.8 931.5,625.2 935.5,625.3 939.5,625.7 943.5,628.4 947.5,621.7 951.5,622.1 955.5,624.0 959.5,625.0 963.5,625.5 967.5,626.3 971.5,627.4 975.5,628.5 979.5,625.5 983.5,626.5 987.5,618.7 991.5,612.4 995.5,608.2 999.5,605.9 1003.5,605.4 1007.5,605.0 1011.5,604.2 1015.5,598.9 1019.5,598.4 1023.5,597.3 1027.5,599.7 1031.5,602.5 1035.5,604.3 1039.5,604.6 1043.5,605.1 1047.5,608.6 1051.5,601.7 1055.5,597.9 1059.5,597.7 1063.5,597.4 1067.5,598.5 1071.5,597.6 1075.5,597.6 1079.5,600.6 1083.5,598.0 1087.5,597.3" stroke="#ff0000"/>
<polyline points="-0.5,603.7 3.5,597.2 7.5,589.0 11.5,579.5 15.5,576.0 19.5,575.5 23.5,573.5 27.5,576.9 31.5,576.0 35.5,571.8 39.5,571.1 43.5,579.4 47.5,578.8 51.5,579.5 55.5,591.6 59.5,598.8 63.5,604.7 67.5,604.6 71.5,597.1 75.5,598.5 79.5,602.8 83.5,606.1 87.5,608.0 91.5,601.8 95.5,597.2 99.5,587.8 103.5,587.3 107.5,595.3 111.5,593.0 115.5,598.8 119.5,604.1 123.5,593.9 127.5,594.9 131.5,594.6 135.5,593.6 139.5,587.8 143.5,586.3 147.5,580.0 151.5,579.6 155.5,571.4 159.5,570.7 163.5,566.2 167.5,565.9 171.5,570.5 175.5,568.1 179.5,566.2 183.5,565.8 187.5,564.3 191.5,566.1 195.5,568.1 199.5,566.7 203.5,565.7 207.5,563.6 211.5,574.2 215.5,590.0 219.5,590.4 223.5,594.7 227.5,604.5 231.5,611.8 235.5,604.9 239.5,603.4 243.5,610.1 247.5,605.4 251.5,614.7 255.5,609.8 259.5,613.5 263.5,618.8 267.5,623.1 271.5,620.2 275.5,612.7 279.5,617.3 283.5,617.5 287.5,615.5 291.5,620.3 295.5,621.0 299.5,615.7 303.5,617.4 307.5,604.4 311.5,601.0 315.5,604.6 319.5,607.9 323.5,613.2 327.5,618.6 331.5,613.1 335.5,611.5 339.5,620.8 343.5,626.5 347.5,624.8 351.5,619.2 355.5,612.2 359.5,607.9 363.5,612.5 367.5,611.0 371.5,614.3 375.5,618.7 379.5,619.0 383.5,622.0 387.5,618.1 391.5,608.0 395.5,608.0 399.5,602.7 403.5,601.0 407.5,600.6 411.5,603.9 415.5,592.1 419.5,589.7 423.5,588.7 427.5,590.3 431.5,589.3 435.5,587.0 439.5,588.9 443.5,581.4 447.5,577.3 451.5,576.2 455.5,580.8 459.5,586.7 463.5,586.6 467.5,586.3 471.5,585.4 475.5,586.1 479.5,590.8 483.5,587.5 487.5,585.0 491.5,584.9 495.5,587.7 499.5,582.2 503.5,579.1 507.5,576.9 511.5,574.5 515.5,572.7 519.5,572.1 523.5,573.4 527.5,572.7 531.5,579.6 535.5,582.6 539.5,578.1 543.5,577.8 547.5,580.3 551.5,586.1 555.5,587.0 559.5,579.9 563.5,578.7 567.5,576.2 571.5,572.9 575.5,570.3 579.5,580.8 583.5,586.9 587.5,585.0 591.5,586.1 595.5,587.0 599.5,582.6 603.5,584.3 607.5,591.0 611.5,590.1 615.5,591.6 619.5,598.7 623.5,601.5 627.5,603.2 631.5,596.4 635.5,596.8 639.5,596.2 643.5,591.7 647.5,594.4 651.5,591.7 655.5,597.8 659.5,586.8 663.5,574.7 667.5,574.0 671.5,578.4 675.5,576.6 679.5,580.2 683.5,579.4 687.5,583.3 691.5,581.7 695.5,578.1 699.5,575.8 703.5,583.0 707.5,581.5 711.5,588.6 715.5,595.8 719.5,604.6 723.5,604.6 727.5,602.1 731.5,597.6 735.5,598.3 739.5,600.7 743.5,601.9 747.5,604.2 751.5,611.4 755.5,605.6 759.5,599.2 763.5,597.7 767.5,594.2 771.5,593.9 775.5,594.1 779.5,598.6 783.5,601.1 787.5,593.0 791.5,587.5 795.5,585.9 799.5,584.0 803.5,584.1 807.5,588.7 811.5,599.9 815.5,600.9 819.5,604.7 823.5,606.1 827.5,608.0 831.5,612.5 835.5,618.1 839.5,620.5 843.5,620.5 847.5,627.2 851.5,620.6 855.5,619.4 859.5,611.5 863.5,614.3 867.5,615.9 871.5,618.8 875.5,614.8 879.5,615.3 883.5,617.0 887.5,605.6 891.5,602.1 895.5,600.9 899.5,597.9 903.5,594.9 907.5,588.8 911.5,586.2 915.5,606.8 919.5,622.3 923.5,625.3 927.5,628.2 931.5,630.8 935.5,630.9 939.5,631.4 943.5,634.4 947.5,624.7 951.5,625.2 955.5,627.5 959.5,628.8 963.5,629.4 967.5,630.4 971.5,631.9 975.5,633.2 979.5,628.5 983.5,629.9 987.5,617.9 991.5,609.1 995.5,603.4 999.5,600.3 1003.5,599.7 1007.5,599.1 1011.5,598.0 1015.5,590.9 1019.5,590.2 1023.5,588.8 1027.5,593.1 1031.5,597.9 1035.5,600.9 1039.5,601.4 1043.5,602.2 1047.5,608.1 1051.5,597.7 1055.5,592.4 1059.5,592.1 1063.5,591.7 1067.5,593.5 1071.5,592.2 1075.5,592.3 1079.5,597.6 1083.5,593.7 1087.5,592.5" stroke="#0000ff"/>
<polyline points="-0.5,602.8 3.5,592.7 7.5,581.2 11.5,569.8 15.5,566.0 19.5,565.5 23.5,563.2 27.5,569.9 31.5,568.7 35.5,563.0 39.5,562.2 43.5,578.9 47.5,577.8 51.5,579.3 55.5,602.2 59.5,613.1 63.5,621.1 67.5,620.9 71.5,603.3 75.5,605.8 79.5,613.1 83.5,618.4 87.5,621.3 91.5,606.5 95.5,596.6 99.5,580.0 103.5,579.3 107.5,595.7 111.5,591.3 115.5,602.4 119.5,611.7 123.5,592.0 127.5,593.8 131.5,593.3 135.5,591.2 139.5,580.3 143.5,577.8 147.5,568.4 151.5,567.8 155.5,558.6 159.5,558.0 163.5,554.1 167.5,553.9 171.5,563.5 175.5,560.3 179.5,558.0 183.5,557.5 187.5,555.7 191.5,559.8 195.5,564.5 199.5,561.9 203.5,560.1 207.5,556.9 211.5,579.6 215.5,605.8 219.5,606.4 223.5,612.6 227.5,625.0 231.5,632.5 235.5,617.1 239.5,614.0 243.5,623.3 247.5,613.3 251.5,626.2 255.5,616.6 259.5,622.0 263.5,629.2 267.5,634.3 271.5,628.5 275.5,614.1 279.5,621.7 283.5,622.1 287.5,618.0 291.5,626.3 295.5,627.5 299.5,616.0 303.5,619.5 307.5,595.1 311.5,589.7 315.5,598.0 319.5,605.0 323.5,615.6 327.5,624.8 331.5,614.0 335.5,610.8 339.5,626.8 343.5,634.5 347.5,631.2 351.5,620.6 355.5,608.0 359.5,600.8 363.5,610.2 367.5,607.4 371.5,614.2 375.5,622.4 379.5,623.0 383.5,628.3 387.5,619.9 391.5,600.3 395.5,600.3 399.5,590.9 403.5,588.0 407.5,587.3 411.5,596.7 415.5,577.0 419.5,573.9 423.5,572.5 427.5,576.9 431.5,575.3 435.5,571.6 439.5,577.3 443.5,566.0 447.5,561.5 451.5,560.2 455.5,571.6 459.5,585.1 463.5,584.9 467.5,584.2 471.5,582.1 475.5,583.9 479.5,596.2 483.5,587.2 487.5,581.1 491.5,580.9 495.5,588.9 499.5,575.9 503.5,570.1 507.5,566.6 511.5,563.1 515.5,560.7 519.5,559.9 523.5,563.6 527.5,562.4 531.5,580.8 535.5,588.0 539.5,576.7 543.5,576.0 547.5,582.1 551.5,595.4 555.5,597.3 559.5,578.9 563.5,576.2 567.5,571.2 571.5,565.7 575.5,561.8 579.5,583.6 583.5,594.7 587.5,590.4 591.5,592.5 595.5,594.2 599.5,583.5 603.5,587.1 607.5,600.8 611.5,598.4 615.5,601.5 619.5,614.6 623.5,619.1 627.5,621.7 631.5,602.6 635.5,603.5 639.5,601.9 643.5,590.3 647.5,596.9 651.5,590.3 655.5,604.1 659.5,581.1 663.5,564.9 667.5,564.0 671.5,572.6 675.5,569.9 679.5,577.2 683.5,575.8 687.5,584.0 691.5,580.5 695.5,573.6 699.5,569.6 703.5,584.9 707.5,581.6 711.5,595.6 715.5,608.0 719.5,620.5 723.5,620.5 727.5,614.3 731.5,603.3 735.5,604.7 739.5,609.3 743.5,611.8 747.5,616.1 751.5,627.8 755.5,613.0 759.5,599.0 763.5,595.8 767.5,588.8 771.5,588.2 775.5,588.7 779.5,600.1 783.5,605.9 787.5,587.6 791.5,577.9 795.5,575.4 799.5,572.4 803.5,572.5 807.5,584.6 811.5,608.1 815.5,609.9 819.5,616.5 823.5,618.9 827.5,622.1 831.5,628.9 835.5,635.9 839.5,638.4 843.5,638.4 847.5,644.7 851.5,629.6 855.5,626.9 859.5,610.2 863.5,615.7 867.5,618.9 871.5,624.4 875.5,615.6 879.5,616.7 883.5,620.4 887.5,596.5 891.5,590.5 895.5,588.4 899.5,583.5 903.5,578.7 907.5,570.4 911.5,567.3 915.5,610.0 919.5,630.7 923.5,634.0 927.5,637.1 931.5,639.9 935.5,640.0 939.5,640.6 943.5,643.8 947.5,625.4 951.5,626.3 955.5,630.5 959.5,632.7 963.5,633.7 967.5,635.6 971.5,638.0 975.5,640.2 979.5,629.1 983.5,632.1 987.5,607.6 991.5,593.1 995.5,585.1 999.5,581.0 1003.5,580.1 1007.5,579.4 1011.5,577.7 1015.5,568.5 1019.5,567.7 1023.5,566.0 1027.5,579.3 1031.5,592.3 1035.5,599.6 1039.5,600.9 1043.5,603.0 1047.5,616.3 1051.5,592.7 1055.5,583.4 1059.5,582.8 1063.5,582.1 1067.5,587.1 1071.5,584.3 1075.5,584.6 1079.5,599.3 1083.5,589.6 1087.5,587.0" stroke="#000000"/>
</g>
<g shape-rendering="crispEdges">
<rect x="2" y="710" width="3" height="3" fill="#1e90ff"/>
<rect x="6" y="701" width="3" height="12" fill="#1e90ff"/>
<rect x="10" y="693" width="3" height="20" fill="#1e90ff"/>
<rect x="14" y="696" width="3" height="17" fill="#1e90ff"/>
<rect x="18" y="703" width="3" height="10" fill="#1e90ff"/>
<rect x="22" y="703" width="3" height="10" fill="#1e90ff"/>
<rect x="26" y="711" width="3" height="2" fill="#1e90ff"/>
<rect x="30" y="712" width="3" height="1" fill="#1e90ff"/>
<rect x="34" y="709" width="3" height="4" fill="#1e90ff"/>
<rect x="38" y="711" width="3" height="2" fill="#1e90ff"/>
<rect x="42" y="713" width="3" height="6" fill="#ffa07a"/>
<rect x="46" y="713" width="3" height="6" fill="#ffa07a"/>
<rect x="50" y="713" width="3" height="9" fill="#ffa07a"/>
<rect x="54" y="713" width="3" height="18" fill="#ffa07a"/>
<rect x="58" y="713" width="3" height="18" fill="#ffa07a"/>
<rect x="62" y="713" width="3" height="19" fill="#ffa07a"/>
<rect x="66" y="713" width="3" height="8" fill="#ffa07a"/>
<rect x="70" y="713" width="3" height="1" fill="#ffa07a"/>
<rect x="74" y="712" width="3" height="1" fill="#1e90ff"/>
<rect x="78" y="713" width="3" height="2" fill="#ffa07a"/>
<rect x="82" y="713" width="3" height="5" fill="#ffa07a"/>
<rect x="86" y="713" width="3" height="6" fill="#ffa07a"/>
<rect x="90" y="712" width="3" height="1" fill="#1e90ff"/>
<rect x="94" y="708" width="3" height="5" fill="#1e90ff"/>
<rect x="98" y="696" width="3" height="17" fill="#1e90ff"/>
<rect x="102" y="701" width="3" height="12" fill="#1e90ff"/>
<rect x="106" y="709" width="3" height="4" fill="#1e90ff"/>
<rect x="110" y="711" width="3" height="2" fill="#1e90ff"/>
<rect x="114" y="713" width="3" height="2" fill="#ffa07a"/>
<rect x="118" y="713" width="3" height="9" fill="#ffa07a"/>
<rect x="122" y="712" width="3" height="1" fill="#1e90ff"/>
<rect x="126" y="712" width="3" height="1" fill="#1e90ff"/>
<rect x="130" y="713" width="3" height="1" fill="#ffa07a"/>
<rect x="134" y="711" width="3" height="2" fill="#1e90ff"/>
<rect x="138" y="708" width="3" height="5" fill="#1e90ff"/>
<rect x="142" y="704" width="3" height="9" fill="#1e90ff"/>
<rect x="146" y="700" width="3" height="13" fill="#1e90ff"/>
<rect x="150" y="698" width="3" height="15" fill="#1e90ff"/>
<rect x="154" y="696" width="3" height="17" fill="#1e90ff"/>
<rect x="158" y="699" width="3" height="14" fill="#1e90ff"/>
<rect x="162" y="701" width="3" height="12" fill="#1e90ff"/>
<rect x="166" y="706" width="3" height="7" fill="#1e90ff"/>
<rect x="170" y="707" width="3" height="6" fill="#1e90ff"/>
<rect x="174" y="709" width="3" height="4" fill="#1e90ff"/>
<rect x="178" y="712" width="3" height="1" fill="#1e90ff"/>
<rect x="182" y="713" width="3" height="1" fill="#ffa07a"/>
<rect x="186" y="713" width="3" height="2" fill="#ffa07a"/>
<rect x="190" y="713" width="3" height="3" fill="#ffa07a"/>
<rect x="194" y="713" width="3" height="5" fill="#ffa07a"/>
<rect x="198" y="713" width="3" height="3" fill="#ffa07a"/>
<rect x="202" y="713" width="3" height="4" fill="#ffa07a"/>
<rect x="206" y="712" width="3" height="1" fill="#1e90ff"/>
<rect x="210" y="713" width="3" height="11" fill="#ffa07a"/>
<rect x="214" y="713" width="3" height="19" fill="#ffa07a"/>
<rect x="218" y="713" width="3" height="22" fill="#ffa07a"/>
<rect x="222" y="713" width="3" height="24" fill="#ffa07a"/>
<rect x="226" y="713" width="3" height="26" fill="#ffa07a"/>
<rect x="230" y="713" width="3" height="25" fill="#ffa07a"/>
<rect x="234" y="713" width="3" height="12" fill="#ffa07a"/>
<rect x="238" y="713" width="3" height="11" fill="#ffa07a"/>
<rect x="242" y="713" width="3" height="3" fill="#ffa07a"/>
<rect x="246" y="713" width="3" height="4" fill="#ffa07a"/>
<rect x="250" y="713" width="3" height="6" fill="#ffa07a"/>
<rect x="254" y="712" width="3" height="1" fill="#1e90ff"/>
<rect x="258" y="713" width="3" height="8" fill="#ffa07a"/>
<rect x="262" y="713" width="3" height="8" fill="#ffa07a"/>
<rect x="266" y="713" width="3" height="16" fill="#ffa07a"/>
<rect x="270" y="713" width="3" height="10" fill="#ffa07a"/>
<rect x="274" y="710" width="3" height="3" fill="#1e90ff"/>
<rect x="278" y="713" width="3" height="4" fill="#ffa07a"/>
<rect x="282" y="709" width="3" height="4" fill="#1e90ff"/>
<rect x="286" y="706" width="3" height="7" fill="#1e90ff"/>
<rect x="290" y="713" width="3" height="1" fill="#ffa07a"/>
<rect x="294" y="713" width="3" height="1" fill="#ffa07a"/>
<rect x="298" y="710" width="3" height="3" fill="#1e90ff"/>
<rect x="302" y="704" width="3" height="9" fill="#1e90ff"/>
<rect x="306" y="692" width="3" height="21" fill="#1e90ff"/>
<rect x="310" y="689" width="3" height="24" fill="#1e90ff"/>
<rect x="314" y="699" width="3" height="14" fill="#1e90ff"/>
<rect x="318" y="707" width="3" height="6" fill="#1e90ff"/>
<rect x="322" y="713" width="3" height="9" fill="#ffa07a"/>
<rect x="326" y="713" width="3" height="10" fill="#ffa07a"/>
<rect x="330" y="713" width="3" height="4" fill="#ffa07a"/>
<rect x="334" y="713" width="3" height="1" fill="#ffa07a"/>
<rect x="338" y="713" width="3" height="20" fill="#ffa07a"/>
<rect x="342" y="713" width="3" height="32" fill="#ffa07a"/>
<rect x="346" y="713" width="3" height="21" fill="#ffa07a"/>
<rect x="350" y="713" width="3" height="13" fill="#ffa07a"/>
<rect x="354" y="687" width="3" height="26" fill="#1e90ff"/>
<rect x="358" y="695" width="3" height="18" fill="#1e90ff"/>
<rect x="362" y="701" width="3" height="12" fill="#1e90ff"/>
<rect x="366" y="708" width="3" height="5" fill="#1e90ff"/>
<rect x="370" y="713" width="3" height="1" fill="#ffa07a"/>
<rect x="374" y="713" width="3" height="9" fill="#ffa07a"/>
<rect x="378" y="713" width="3" height="8" fill="#ffa07a"/>
<rect x="382" y="713" width="3" height="11" fill="#ffa07a"/>
<rect x="386" y="713" width="3" height="1" fill="#ffa07a"/>
<rect x="390" y="701" width="3" height="12" fill="#1e90ff"/>
<rect x="394" y="692" width="3" height="21" fill="#1e90ff"/>
<rect x="398" y="686" width="3" height="27" fill="#1e90ff"/>
<rect x="402" y="689" width="3" height="24" fill="#1e90ff"/>
<rect x="406" y="693" width="3" height="20" fill="#1e90ff"/>
<rect x="410" y="702" width="3" height="11" fill="#1e90ff"/>
<rect x="414" y="697" width="3" height="16" fill="#1e90ff"/>
<rect x="418" y="689" width="3" height="24" fill="#1e90ff"/>
<rect x="422" y="693" width="3" height="20" fill="#1e90ff"/>
<rect x="426" y="705" width="3" height="8" fill="#1e90ff"/>
<rect x="430" y="708" width="3" height="5" fill="#1e90ff"/>
<rect x="434" y="712" width="3" height="1" fill="#1e90ff"/>
<rect x="438" y="713" width="3" height="5" fill="#ffa07a"/>
<rect x="442" y="701" width="3" height="12" fill="#1e90ff"/>
<rect x="446" y="693" width="3" height="20" fill="#1e90ff"/>
<rect x="450" y="697" width="3" height="16" fill="#1e90ff"/>
<rect x="454" y="711" width="3" height="2" fill="#1e90ff"/>
<rect x="458" y="713" width="3" height="7" fill="#ffa07a"/>
<rect x="462" y="713" width="3" height="11" fill="#ffa07a"/>
<rect x="466" y="713" width="3" height="14" fill="#ffa07a"/>
<rect x="470" y="713" width="3" height="15" fill="#ffa07a"/>
<rect x="474" y="713" width="3" height="13" fill="#ffa07a"/>
<rect x="478" y="713" width="3" height="16" fill="#ffa07a"/>
<rect x="482" y="713" width="3" height="8" fill="#ffa07a"/>
<rect x="486" y="713" width="3" height="4" fill="#ffa07a"/>
<rect x="490" y="713" width="3" height="4" fill="#ffa07a"/>
<rect x="494" y="713" width="3" height="2" fill="#ffa07a"/>
<rect x="498" y="705" width="3" height="8" fill="#1e90ff"/>
<rect x="502" y="707" width="3" height="6" fill="#1e90ff"/>
<rect x="506" y="701" width="3" height="12" fill="#1e90ff"/>
<rect x="510" y="705" width="3" height="8" fill="#1e90ff"/>
<rect x="514" y="704" width="3" height="9" fill="#1e90ff"/>
<rect x="518" y="709" width="3" height="4" fill="#1e90ff"/>
<rect x="522" y="710" width="3" height="3" fill="#1e90ff"/>
<rect x="526" y="713" width="3" height="4" fill="#ffa07a"/>
<rect x="530" y="713" width="3" height="7" fill="#ffa07a"/>
<rect x="534" y="713" width="3" height="13" fill="#ffa07a"/>
<rect x="538" y="713" width="3" height="5" fill="#ffa07a"/>
<rect x="542" y="713" width="3" height="5" fill="#ffa07a"/>
<rect x="546" y="713" width="3" height="6" fill="#ffa07a"/>
<rect x="550" y="713" width="3" height="12" fill="#ffa07a"/>
<rect x="554" y="713" width="3" height="5" fill="#ffa07a"/>
<rect x="558" y="710" width="3" height="3" fill="#1e90ff"/>
<rect x="562" y="711" width="3" height="2" fill="#1e90ff"/>
<rect x="566" y="705" width="3" height="8" fill="#1e90ff"/>
<rect x="570" y="704" width="3" height="9" fill="#1e90ff"/>
<rect x="574" y="704" width="3" height="9" fill="#1e90ff"/>
<rect x="578" y="713" width="3" height="3" fill="#ffa07a"/>
<rect x="582" y="713" width="3" height="10" fill="#ffa07a"/>
<rect x="586" y="713" width="3" height="9" fill="#ffa07a"/>
<rect x="590" y="713" width="3" height="7" fill="#ffa07a"/>
<rect x="594" y="713" width="3" height="5" fill="#ffa07a"/>
<rect x="598" y="712" width="3" height="1" fill="#1e90ff"/>
<rect x="602" y="713" width="3" height="1" fill="#ffa07a"/>
<rect x="606" y="713" width="3" height="6" fill="#ffa07a"/>
<rect x="610" y="713" width="3" height="5" fill="#ffa07a"/>
<rect x="614" y="713" width="3" height="9" fill="#ffa07a"/>
<rect x="618" y="713" width="3" height="11" fill="#ffa07a"/>
<rect x="622" y="713" width="3" height="10" fill="#ffa07a"/>
<rect x="626" y="713" width="3" height="7" fill="#ffa07a"/>
<rect x="630" y="712" width="3" height="1" fill="#1e90ff"/>
<rect x="634" y="713" width="3" height="1" fill="#ffa07a"/>
<rect x="638" y="710" width="3" height="3" fill="#1e90ff"/>
<rect x="642" y="709" width="3" height="4" fill="#1e90ff"/>
<rect x="646" y="709" width="3" height="4" fill="#1e90ff"/>
<rect x="650" y="710" width="3" height="3" fill="#1e90ff"/>
<rect x="654" y="713" width="3" height="3" fill="#ffa07a"/>
<rect x="658" y="696" width="3" height="17" fill="#1e90ff"/>
<rect x="662" y="687" width="3" height="26" fill="#1e90ff"/>
<rect x="666" y="691" width="3" height="22" fill="#1e90ff"/>
<rect x="670" y="696" width="3" height="17" fill="#1e90ff"/>
<rect x="674" y="709" width="3" height="4" fill="#1e90ff"/>
<rect x="678" y="713" width="3" height="1" fill="#ffa07a"/>
<rect x="682" y="713" width="3" height="6" fill="#ffa07a"/>
<rect x="686" y="713" width="3" height="5" fill="#ffa07a"/>
<rect x="690" y="713" width="3" height="7" fill="#ffa07a"/>
<rect x="694" y="711" width="3" height="2" fill="#1e90ff"/>
<rect x="698" y="713" width="3" height="1" fill="#ffa07a"/>
<rect x="702" y="713" width="3" height="3" fill="#ffa07a"/>
<rect x="706" y="713" width="3" height="4" fill="#ffa07a"/>
<rect x="710" y="713" width="3" height="11" fill="#ffa07a"/>
<rect x="714" y="713" width="3" height="18" fill="#ffa07a"/>
<rect x="718" y="713" width="3" height="19" fill="#ffa07a"/>
<rect x="722" y="713" width="3" height="19" fill="#ffa07a"/>
<rect x="726" y="713" width="3" height="7" fill="#ffa07a"/>
<rect x="730" y="713" width="3" height="3" fill="#ffa07a"/>
<rect x="734" y="713" width="3" height="1" fill="#ffa07a"/>
<rect x="738" y="713" width="3" height="2" fill="#ffa07a"/>
<rect x="742" y="713" width="3" height="1" fill="#ffa07a"/>
<rect x="746" y="713" width="3" height="4" fill="#ffa07a"/>
<rect x="750" y="713" width="3" height="5" fill="#ffa07a"/>
<rect x="754" y="713" width="3" height="3" fill="#ffa07a"/>
<rect x="758" y="709" width="3" height="4" fill="#1e90ff"/>
<rect x="762" y="707" width="3" height="6" fill="#1e90ff"/>
<rect x="766" y="706" width="3" height="7" fill="#1e90ff"/>
<rect x="770" y="702" width="3" height="11" fill="#1e90ff"/>
<rect x="774" y="708" width="3" height="5" fill="#1e90ff"/>
<rect x="778" y="712" width="3" height="1" fill="#1e90ff"/>
<rect x="782" y="712" width="3" height="1" fill="#1e90ff"/>
<rect x="786" y="708" width="3" height="5" fill="#1e90ff"/>
<rect x="790" y="702" width="3" height="11" fill="#1e90ff"/>
<rect x="794" y="705" width="3" height="8" fill="#1e90ff"/>
<rect x="798" y="706" width="3" height="7" fill="#1e90ff"/>
<rect x="802" y="710" width="3" height="3" fill="#1e90ff"/>
<rect x="806" y="713" width="3" height="4" fill="#ffa07a"/>
<rect x="810" y="713" width="3" height="10" fill="#ffa07a"/>
<rect x="814" y="713" width="3" height="9" fill="#ffa07a"/>
<rect x="818" y="713" width="3" height="11" fill="#ffa07a"/>
<rect x="822" y="713" width="3" height="10" fill="#ffa07a"/>
<rect x="826" y="713" width="3" height="10" fill="#ffa07a"/>
<rect x="830" y="713" width="3" height="11" fill="#ffa07a"/>
<rect x="834" y="713" width="3" height="14" fill="#ffa07a"/>
<rect x="838" y="713" width="3" height="7" fill="#ffa07a"/>
<rect x="842" y="713" width="3" height="8" fill="#ffa07a"/>
<rect x="846" y="713" width="3" height="5" fill="#ffa07a"/>
<rect x="850" y="713" width="3" height="3" fill="#ffa07a"/>
<rect x="854" y="711" width="3" height="2" fill="#1e90ff"/>
<rect x="858" y="702" width="3" height="11" fill="#1e90ff"/>
<rect x="862" y="713" width="3" height="2" fill="#ffa07a"/>
<rect x="866" y="712" width="3" height="1" fill="#1e90ff"/>
<rect x="870" y="711" width="3" height="2" fill="#1e90ff"/>
<rect x="874" y="708" width="3" height="5" fill="#1e90ff"/>
<rect x="878" y="708" width="3" height="5" fill="#1e90ff"/>
<rect x="882" y="706" width="3" height="7" fill="#1e90ff"/>
<rect x="886" y="703" width="3" height="10" fill="#1e90ff"/>
<rect x="890" y="702" width="3" height="11" fill="#1e90ff"/>
<rect x="894" y="703" width="3" height="10" fill="#1e90ff"/>
<rect x="898" y="704" width="3" height="9" fill="#1e90ff"/>
<rect x="902" y="705" width="3" height="8" fill="#1e90ff"/>
<rect x="906" y="704" width="3" height="9" fill="#1e90ff"/>
<rect x="910" y="704" width="3" height="9" fill="#1e90ff"/>
<rect x="914" y="713" width="3" height="21" fill="#ffa07a"/>
<rect x="918" y="713" width="3" height="32" fill="#ffa07a"/>
<rect x="922" y="713" width="3" height="36" fill="#ffa07a"/>
<rect x="926" y="713" width="3" height="33" fill="#ffa07a"/>
<rect x="930" y="713" width="3" height="28" fill="#ffa07a"/>
<rect x="934" y="713" width="3" height="13" fill="#ffa07a"/>
<rect x="938" y="713" width="3" height="10" fill="#ffa07a"/>
<rect x="942" y="713" width="3" height="2" fill="#ffa07a"/>
<rect x="946" y="706" width="3" height="7" fill="#1e90ff"/>
<rect x="950" y="704" width="3" height="9" fill="#1e90ff"/>
<rect x="954" y="709" width="3" height="4" fill="#1e90ff"/>
<rect x="958" y="711" width="3" height="2" fill="#1e90ff"/>
<rect x="962" y="707" width="3" height="6" fill="#1e90ff"/>
<rect x="966" y="710" width="3" height="3" fill="#1e90ff"/>
<rect x="970" y="711" width="3" height="2" fill="#1e90ff"/>
<rect x="974" y="712" width="3" height="1" fill="#1e90ff"/>
<rect x="978" y="711" width="3" height="2" fill="#1e90ff"/>
<rect x="982" y="704" width="3" height="9" fill="#1e90ff"/>
<rect x="986" y="694" width="3" height="19" fill="#1e90ff"/>
<rect x="990" y="684" width="3" height="29" fill="#1e90ff"/>
<rect x="994" y="687" width="3" height="26" fill="#1e90ff"/>
<rect x="998" y="688" width="3" height="25" fill="#1e90ff"/>
<rect x="1002" y="697" width="3" height="16" fill="#1e90ff"/>
<rect x="1006" y="700" width="3" height="13" fill="#1e90ff"/>
<rect x="1010" y="705" width="3" height="8" fill="#1e90ff"/>
<rect x="1014" y="707" width="3" height="6" fill="#1e90ff"/>
<rect x="1018" y="703" width="3" height="10" fill="#1e90ff"/>
<rect x="1022" y="706" width="3" height="7" fill="#1e90ff"/>
<rect x="1026" y="713" width="3" height="1" fill="#ffa07a"/>
<rect x="1030" y="713" width="3" height="7" fill="#ffa07a"/>
<rect x="1034" y="713" width="3" height="7" fill="#ffa07a"/>
<rect x="1038" y="713" width="3" height="10" fill="#ffa07a"/>
<rect x="1042" y="713" width="3" height="9" fill="#ffa07a"/>
<rect x="1046" y="713" width="3" height="3" fill="#ffa07a"/>
<rect x="1050" y="713" width="3" height="4" fill="#ffa07a"/>
<rect x="1054" y="711" width="3" height="2" fill="#1e90ff"/>
<rect x="1058" y="712" width="3" height="1" fill="#1e90ff"/>
<rect x="1062" y="712" width="3" height="1" fill="#1e90ff"/>
<rect x="1066" y="712" width="3" height="1" fill="#1e90ff"/>
<rect x="1070" y="712" width="3" height="1" fill="#1e90ff"/>
<rect x="1074" y="713" width="3" height="1" fill="#ffa07a"/>
<rect x="1078" y="713" width="3" height="4" fill="#ffa07a"/>
<rect x="1082" y="713" width="3" height="1" fill="#ffa07a"/>
<rect x="1086" y="713" width="3" height="1" fill="#ffa07a"/>
</g>
<g fill="none" stroke-width="2" stroke-linejoin="round" shape-rendering="crispEdges">
<polyline points="-0.5,715.7 3.5,713.0 7.5,706.4 11.5,697.1 15.5,692.4 19.5,691.8 23.5,688.3 27.5,690.3 31.5,690.5 35.5,688.3 39.5,688.5 43.5,692.6 47.5,694.9 51.5,698.4 55.5,707.3 59.5,713.3 63.5,719.4 67.5,718.7 71.5,716.1 75.5,715.5 79.5,717.1 83.5,719.4 87.5,722.0 91.5,719.4 95.5,716.2 99.5,707.1 103.5,705.1 107.5,706.0 111.5,705.8 115.5,708.0 119.5,713.1 123.5,710.1 127.5,709.6 131.5,710.1 135.5,709.0 139.5,706.5 143.5,701.9 147.5,696.7 151.5,691.0 155.5,684.8 159.5,681.4 163.5,678.2 167.5,677.2 171.5,675.8 175.5,675.0 179.5,676.2 183.5,676.4 187.5,677.4 191.5,679.1 195.5,681.2 199.5,681.8 203.5,683.0 207.5,681.7 211.5,689.0 215.5,697.5 219.5,705.8 223.5,713.8 227.5,722.9 231.5,730.8 235.5,730.4 239.5,733.6 243.5,732.1 247.5,733.5 251.5,736.0 255.5,733.9 259.5,739.2 263.5,741.8 267.5,749.5 271.5,750.7 275.5,745.9 279.5,749.3 283.5,745.2 287.5,742.0 291.5,744.8 295.5,745.0 299.5,742.7 303.5,737.6 307.5,727.4 311.5,718.7 315.5,717.1 319.5,718.0 323.5,725.4 327.5,729.3 331.5,728.4 335.5,727.6 339.5,740.4 343.5,754.4 347.5,757.8 351.5,759.4 355.5,738.6 359.5,735.2 363.5,733.0 367.5,733.7 371.5,736.0 375.5,741.3 379.5,743.6 383.5,748.2 387.5,745.0 391.5,736.8 395.5,727.1 399.5,716.8 403.5,709.8 407.5,704.4 411.5,703.9 415.5,697.1 419.5,686.9 423.5,681.4 427.5,682.7 431.5,682.2 435.5,683.1 439.5,686.4 443.5,676.8 447.5,668.1 451.5,664.3 455.5,668.2 459.5,673.3 463.5,678.2 467.5,683.5 471.5,688.7 475.5,692.4 479.5,698.2 483.5,698.0 487.5,698.3 491.5,699.2 495.5,699.5 499.5,693.9 503.5,692.4 507.5,686.8 511.5,685.5 515.5,682.3 519.5,682.9 523.5,682.2 527.5,685.5 531.5,688.7 535.5,694.7 539.5,693.8 543.5,695.6 547.5,697.9 551.5,703.4 555.5,702.7 559.5,699.2 563.5,698.7 567.5,694.4 571.5,690.8 575.5,688.1 579.5,692.7 583.5,698.0 587.5,700.5 591.5,702.4 595.5,703.5 599.5,701.3 603.5,702.1 607.5,705.6 611.5,707.0 615.5,711.0 619.5,715.2 623.5,718.1 627.5,719.2 631.5,716.9 635.5,717.7 639.5,715.4 643.5,713.5 647.5,712.4 651.5,711.5 655.5,714.2 659.5,702.7 663.5,691.3 667.5,685.3 671.5,681.6 675.5,684.8 679.5,685.9 683.5,689.7 687.5,691.1 691.5,694.1 695.5,690.3 699.5,691.9 703.5,693.3 707.5,695.1 711.5,700.6 715.5,708.8 719.5,715.4 723.5,721.2 727.5,719.7 731.5,719.1 735.5,718.3 739.5,719.5 743.5,719.1 747.5,721.7 751.5,723.5 755.5,723.5 759.5,720.3 763.5,717.6 767.5,715.4 771.5,710.5 775.5,710.8 779.5,711.5 783.5,711.1 787.5,708.3 791.5,703.0 795.5,701.2 799.5,699.0 803.5,699.5 807.5,703.3 811.5,708.5 815.5,711.1 819.5,715.1 823.5,718.4 827.5,721.3 831.5,725.1 835.5,730.7 839.5,731.0 843.5,734.1 847.5,734.5 851.5,734.7 855.5,732.3 859.5,726.0 863.5,730.8 867.5,729.3 871.5,728.6 875.5,725.6 879.5,724.5 883.5,721.7 887.5,717.0 891.5,713.5 895.5,710.5 899.5,708.2 903.5,705.8 907.5,702.7 911.5,699.7 915.5,715.9 919.5,729.8 923.5,743.0 927.5,752.5 931.5,759.9 935.5,759.3 939.5,761.8 943.5,760.0 947.5,754.8 951.5,751.1 955.5,751.7 959.5,751.3 963.5,748.2 967.5,748.1 971.5,748.1 975.5,748.1 979.5,747.0 983.5,742.0 987.5,732.6 991.5,720.3 995.5,713.0 999.5,704.9 1003.5,703.0 1007.5,699.7 1011.5,698.9 1015.5,697.7 1019.5,692.9 1023.5,691.6 1027.5,694.2 1031.5,698.5 1035.5,700.6 1039.5,705.1 1043.5,707.3 1047.5,706.4 1051.5,707.9 1055.5,705.2 1059.5,705.1 1063.5,705.0 1067.5,704.3 1071.5,703.8 1075.5,705.2 1079.5,707.4 1083.5,706.7 1087.5,706.8" stroke="#0000cd"/>
<polyline points="-0.5,715.1 3.5,714.0 7.5,710.2 11.5,703.7 15.5,698.0 19.5,694.9 23.5,691.6 27.5,691.0 31.5,690.8 35.5,689.5 39.5,689.0 43.5,690.8 47.5,692.9 51.5,695.6 55.5,701.5 59.5,707.4 63.5,713.4 67.5,716.0 71.5,716.0 75.5,715.8 79.5,716.4 83.5,717.9 87.5,720.0 91.5,719.7 95.5,717.9 99.5,712.5 103.5,708.8 107.5,707.4 111.5,706.6 115.5,707.3 119.5,710.2 123.5,710.1 127.5,709.9 131.5,710.0 135.5,709.5 139.5,708.0 143.5,704.9 147.5,700.8 151.5,695.9 155.5,690.3 159.5,685.8 163.5,682.0 167.5,679.6 171.5,677.7 175.5,676.4 179.5,676.3 183.5,676.3 187.5,676.9 191.5,678.0 195.5,679.6 199.5,680.7 203.5,681.9 207.5,681.8 211.5,685.4 215.5,691.4 219.5,698.6 223.5,706.2 227.5,714.6 231.5,722.7 235.5,726.5 239.5,730.1 243.5,731.1 247.5,732.3 251.5,734.1 255.5,734.0 259.5,736.6 263.5,739.2 267.5,744.3 271.5,747.5 275.5,746.7 279.5,748.0 283.5,746.6 287.5,744.3 291.5,744.5 295.5,744.7 299.5,743.7 303.5,740.6 307.5,734.0 311.5,726.4 315.5,721.8 319.5,719.9 323.5,722.6 327.5,726.0 331.5,727.2 335.5,727.4 339.5,733.9 343.5,744.1 347.5,751.0 351.5,755.2 355.5,746.9 359.5,741.1 363.5,737.0 367.5,735.4 371.5,735.7 375.5,738.5 379.5,741.1 383.5,744.7 387.5,744.8 391.5,740.8 395.5,734.0 399.5,725.4 403.5,717.6 407.5,711.0 411.5,707.5 415.5,702.3 419.5,694.6 423.5,688.0 427.5,685.3 431.5,683.8 435.5,683.4 439.5,684.9 443.5,680.9 447.5,674.5 451.5,669.4 455.5,668.8 459.5,671.1 463.5,674.6 467.5,679.0 471.5,683.9 475.5,688.1 479.5,693.2 483.5,695.6 487.5,697.0 491.5,698.1 495.5,698.8 499.5,696.4 503.5,694.4 507.5,690.6 511.5,688.0 515.5,685.2 519.5,684.0 523.5,683.1 527.5,684.3 531.5,686.5 535.5,690.6 539.5,692.2 543.5,693.9 547.5,695.9 551.5,699.7 555.5,701.2 559.5,700.2 563.5,699.5 567.5,696.9 571.5,693.9 575.5,691.0 579.5,691.8 583.5,694.9 587.5,697.7 591.5,700.1 595.5,701.8 599.5,701.5 603.5,701.8 607.5,703.7 611.5,705.4 615.5,708.2 619.5,711.7 623.5,714.9 627.5,717.1 631.5,717.0 635.5,717.3 639.5,716.4 643.5,714.9 647.5,713.7 651.5,712.6 655.5,713.4 659.5,708.0 663.5,699.7 667.5,692.5 671.5,687.1 675.5,685.9 679.5,685.9 683.5,687.8 687.5,689.5 691.5,691.8 695.5,691.0 699.5,691.5 703.5,692.4 707.5,693.8 711.5,697.2 715.5,703.0 719.5,709.2 723.5,715.2 727.5,717.4 731.5,718.3 735.5,718.3 739.5,718.9 743.5,719.0 747.5,720.3 751.5,721.9 755.5,722.7 759.5,721.5 763.5,719.6 767.5,717.5 771.5,714.0 775.5,712.4 779.5,712.0 783.5,711.5 787.5,709.9 791.5,706.5 795.5,703.8 799.5,701.4 803.5,700.5 807.5,701.9 811.5,705.2 815.5,708.1 819.5,711.6 823.5,715.0 827.5,718.2 831.5,721.6 835.5,726.2 839.5,728.6 843.5,731.3 847.5,732.9 851.5,733.8 855.5,733.1 859.5,729.5 863.5,730.2 867.5,729.7 871.5,729.2 875.5,727.4 879.5,725.9 883.5,723.8 887.5,720.4 891.5,717.0 895.5,713.7 899.5,711.0 903.5,708.4 907.5,705.5 911.5,702.6 915.5,709.2 919.5,719.5 923.5,731.2 927.5,741.9 931.5,750.9 935.5,755.1 939.5,758.5 943.5,759.2 947.5,757.0 951.5,754.1 955.5,752.9 959.5,752.1 963.5,750.2 967.5,749.1 971.5,748.6 975.5,748.4 979.5,747.7 983.5,744.9 987.5,738.7 991.5,729.5 995.5,721.2 999.5,713.1 1003.5,708.0 1007.5,703.8 1011.5,701.4 1015.5,699.5 1019.5,696.2 1023.5,693.9 1027.5,694.1 1031.5,696.3 1035.5,698.4 1039.5,701.8 1043.5,704.5 1047.5,705.5 1051.5,706.7 1055.5,705.9 1059.5,705.5 1063.5,705.2 1067.5,704.8 1071.5,704.3 1075.5,704.7 1079.5,706.1 1083.5,706.4 1087.5,706.6" stroke="#ff8c00"/>
</g>
<ellipse cx="1077.5" cy="711.6" rx="45.4" ry="38.6" fill="none" stroke="#f95252" stroke-width="2.2"/>
<g shape-rendering="crispEdges">
<line x1="1167.5" y1="0" x2="1167.5" y2="768" stroke="#000" stroke-width="1"/>
<line x1="0" y1="541.5" x2="1167" y2="541.5" stroke="#000" stroke-width="1"/>
<line x1="0" y1="543.5" x2="1169" y2="543.5" stroke="#000" stroke-width="1"/>
<line x1="0" y1="656.5" x2="1169" y2="656.5" stroke="#000" stroke-width="1"/>
<line x1="0" y1="658.5" x2="1169" y2="658.5" stroke="#000" stroke-width="1"/>
<line x1="0" y1="768.5" x2="1168" y2="768.5" stroke="#000" stroke-width="1"/>
</g>
<g shape-rendering="crispEdges">
<line x1="1167" y1="32.5" x2="1170" y2="32.5" stroke="#000" stroke-width="1"/>
<line x1="1167" y1="81.5" x2="1170" y2="81.5" stroke="#000" stroke-width="1"/>
<line x1="1167" y1="179.5" x2="1170" y2="179.5" stroke="#000" stroke-width="1"/>
<line x1="1167" y1="228.5" x2="1170" y2="228.5" stroke="#000" stroke-width="1"/>
<line x1="1167" y1="277.5" x2="1170" y2="277.5" stroke="#000" stroke-width="1"/>
<line x1="1167" y1="326.5" x2="1170" y2="326.5" stroke="#000" stroke-width="1"/>
<line x1="1167" y1="375.5" x2="1170" y2="375.5" stroke="#000" stroke-width="1"/>
<line x1="1167" y1="424.5" x2="1170" y2="424.5" stroke="#000" stroke-width="1"/>
<line x1="1167" y1="473.5" x2="1170" y2="473.5" stroke="#000" stroke-width="1"/>
<line x1="1167" y1="522.5" x2="1170" y2="522.5" stroke="#000" stroke-width="1"/>
<line x1="1167" y1="600.5" x2="1170" y2="600.5" stroke="#000" stroke-width="1"/>
<line x1="1167" y1="713.5" x2="1170" y2="713.5" stroke="#000" stroke-width="1"/>
</g>
<text x="1174" y="36.5" fill="#000">786.85</text>
<text x="1174" y="85.5" fill="#000">749.35</text>
<text x="1174" y="183.5" fill="#000">673.60</text>
<text x="1174" y="232.5" fill="#000">636.10</text>
<text x="1174" y="281.5" fill="#000">598.60</text>
<text x="1174" y="330.5" fill="#000">561.10</text>
<text x="1174" y="379.5" fill="#000">522.85</text>
<text x="1174" y="428.5" fill="#000">485.35</text>
<text x="1174" y="477.5" fill="#000">447.85</text>
<text x="1174" y="526.5" fill="#000">410.35</text>
<rect x="1169" y="122" width="49" height="14" fill="#ff0000" shape-rendering="crispEdges"/>
<text x="1174" y="133.6" fill="#fff">712.76</text>
<rect x="1169" y="136" width="49" height="14" fill="#ff0000" shape-rendering="crispEdges"/>
<text x="1174" y="147.6" fill="#fff">702.02</text>
<rect x="1169" y="183" width="49" height="14" fill="#000" shape-rendering="crispEdges"/>
<text x="1174" y="194.6" fill="#fff">665.23</text>
<rect x="1169" y="240" width="49" height="14" fill="#ff0000" shape-rendering="crispEdges"/>
<text x="1174" y="251.6" fill="#fff">622.28</text>
<rect x="1169" y="254" width="49" height="14" fill="#ff0000" shape-rendering="crispEdges"/>
<text x="1174" y="265.6" fill="#fff">610.56</text>
<text x="1171" y="556.5" fill="#000">100</text>
<text x="1171" y="604.5" fill="#000">50</text>
<text x="1171" y="653.0" fill="#000">0</text>
<rect x="1169" y="555" width="55" height="14" fill="#ff0000" shape-rendering="crispEdges"/>
<text x="1174" y="566.6" fill="#fff">85.0000</text>
<rect x="1169" y="572" width="55" height="14" fill="#ff0000" shape-rendering="crispEdges"/>
<text x="1174" y="583.6" fill="#fff">70.0000</text>
<rect x="1169" y="616" width="55" height="14" fill="#0000ff" shape-rendering="crispEdges"/>
<text x="1174" y="627.6" fill="#fff">30.0000</text>
<rect x="1169" y="633" width="55" height="14" fill="#0000ff" shape-rendering="crispEdges"/>
<text x="1174" y="644.6" fill="#fff">15.0000</text>
<text x="1171" y="671.8" fill="#000">26.601</text>
<text x="1171" y="717.8" fill="#000">0.00</text>
<text x="1171" y="764.5" fill="#000">-26.8853</text>
<g shape-rendering="crispEdges">
<line x1="79.5" y1="768" x2="79.5" y2="772" stroke="#000" stroke-width="1"/>
<line x1="175.5" y1="768" x2="175.5" y2="772" stroke="#000" stroke-width="1"/>
<line x1="271.5" y1="768" x2="271.5" y2="772" stroke="#000" stroke-width="1"/>
<line x1="367.5" y1="768" x2="367.5" y2="772" stroke="#000" stroke-width="1"/>
<line x1="463.5" y1="768" x2="463.5" y2="772" stroke="#000" stroke-width="1"/>
<line x1="559.5" y1="768" x2="559.5" y2="772" stroke="#000" stroke-width="1"/>
<line x1="655.5" y1="768" x2="655.5" y2="772" stroke="#000" stroke-width="1"/>
<line x1="751.5" y1="768" x2="751.5" y2="772" stroke="#000" stroke-width="1"/>
<line x1="847.5" y1="768" x2="847.5" y2="772" stroke="#000" stroke-width="1"/>
<line x1="943.5" y1="768" x2="943.5" y2="772" stroke="#000" stroke-width="1"/>
<line x1="1039.5" y1="768" x2="1039.5" y2="772" stroke="#000" stroke-width="1"/>
</g>
<text x="-18" y="783.3" fill="#000">21 Nov 2024</text>
<text x="78" y="783.3" fill="#000">27 Dec 2024</text>
<text x="174" y="783.3" fill="#000">4 Feb 2025</text>
<text x="270" y="783.3" fill="#000">11 Mar 2025</text>
<text x="366" y="783.3" fill="#000">14 Apr 2025</text>
<text x="462" y="783.3" fill="#000">19 May 2025</text>
<text x="558" y="783.3" fill="#000">24 Jun 2025</text>
<text x="654" y="783.3" fill="#000">29 Jul 2025</text>
<text x="750" y="783.3" fill="#000">2 Sep 2025</text>
<text x="846" y="783.3" fill="#000">6 Oct 2025</text>
<text x="942" y="783.3" fill="#000">7 Nov 2025</text>
<text x="1038" y="783.3" fill="#000">12 Dec 2025</text>
</svg>
</body></html>
